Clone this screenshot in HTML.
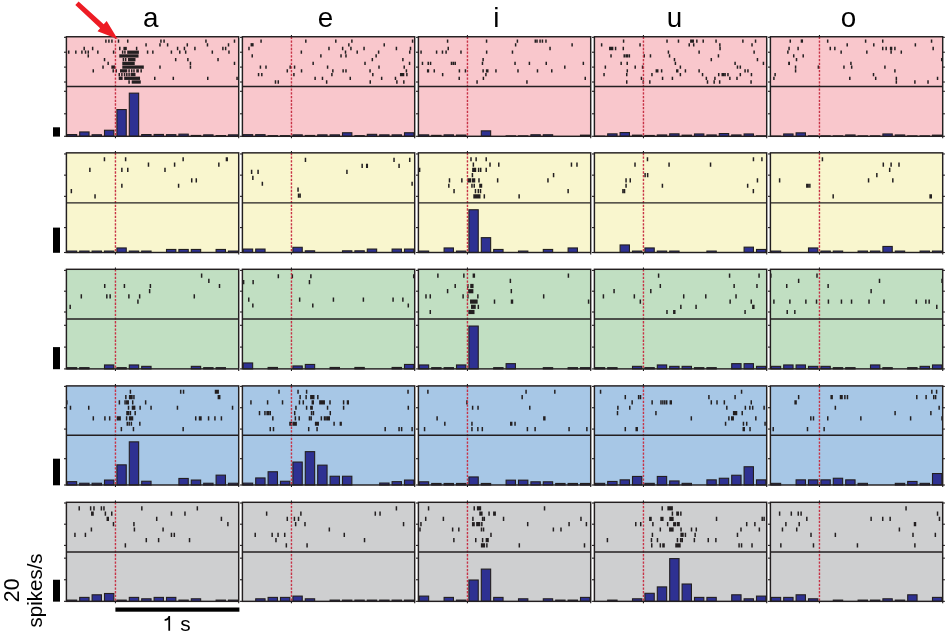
<!DOCTYPE html>
<html><head><meta charset="utf-8"><title>Raster</title>
<style>html,body{margin:0;padding:0;background:#fff;}svg{display:block;will-change:transform;}</style></head>
<body><svg width="946" height="636" viewBox="0 0 946 636">
<rect x="66.4" y="36.75" width="172.3" height="99.55" fill="#f9c7cc"/>
<rect x="242.4" y="36.75" width="172.3" height="99.55" fill="#f9c7cc"/>
<rect x="418.4" y="36.75" width="172.3" height="99.55" fill="#f9c7cc"/>
<rect x="594.4" y="36.75" width="172.3" height="99.55" fill="#f9c7cc"/>
<rect x="770.4" y="36.75" width="172.3" height="99.55" fill="#f9c7cc"/>
<rect x="66.4" y="152.85" width="172.3" height="99.65" fill="#f9f6ce"/>
<rect x="242.4" y="152.85" width="172.3" height="99.65" fill="#f9f6ce"/>
<rect x="418.4" y="152.85" width="172.3" height="99.65" fill="#f9f6ce"/>
<rect x="594.4" y="152.85" width="172.3" height="99.65" fill="#f9f6ce"/>
<rect x="770.4" y="152.85" width="172.3" height="99.65" fill="#f9f6ce"/>
<rect x="66.4" y="269.3" width="172.3" height="99.6" fill="#c1dfc2"/>
<rect x="242.4" y="269.3" width="172.3" height="99.6" fill="#c1dfc2"/>
<rect x="418.4" y="269.3" width="172.3" height="99.6" fill="#c1dfc2"/>
<rect x="594.4" y="269.3" width="172.3" height="99.6" fill="#c1dfc2"/>
<rect x="770.4" y="269.3" width="172.3" height="99.6" fill="#c1dfc2"/>
<rect x="66.4" y="385.9" width="172.3" height="99.1" fill="#a7c7e6"/>
<rect x="242.4" y="385.9" width="172.3" height="99.1" fill="#a7c7e6"/>
<rect x="418.4" y="385.9" width="172.3" height="99.1" fill="#a7c7e6"/>
<rect x="594.4" y="385.9" width="172.3" height="99.1" fill="#a7c7e6"/>
<rect x="770.4" y="385.9" width="172.3" height="99.1" fill="#a7c7e6"/>
<rect x="66.4" y="502.3" width="172.3" height="99.05" fill="#cecfd0"/>
<rect x="242.4" y="502.3" width="172.3" height="99.05" fill="#cecfd0"/>
<rect x="418.4" y="502.3" width="172.3" height="99.05" fill="#cecfd0"/>
<rect x="594.4" y="502.3" width="172.3" height="99.05" fill="#cecfd0"/>
<rect x="770.4" y="502.3" width="172.3" height="99.05" fill="#cecfd0"/>
<rect x="67.3" y="134.55" width="9.35" height="1.75" fill="#2e3192" stroke="#231f20" stroke-width="1.1"/>
<rect x="79.7" y="131.95" width="9.35" height="4.35" fill="#2e3192" stroke="#231f20" stroke-width="1.1"/>
<rect x="92.1" y="134.75" width="9.35" height="1.55" fill="#2e3192" stroke="#231f20" stroke-width="1.1"/>
<rect x="104.5" y="130.25" width="9.35" height="6.05" fill="#2e3192" stroke="#231f20" stroke-width="1.1"/>
<rect x="116.9" y="109.55" width="9.35" height="26.75" fill="#2e3192" stroke="#231f20" stroke-width="1.1"/>
<rect x="129.3" y="93.15" width="9.35" height="43.15" fill="#2e3192" stroke="#231f20" stroke-width="1.1"/>
<rect x="141.7" y="134.55" width="9.35" height="1.75" fill="#2e3192" stroke="#231f20" stroke-width="1.1"/>
<rect x="154.1" y="134.45" width="9.35" height="1.85" fill="#2e3192" stroke="#231f20" stroke-width="1.1"/>
<rect x="166.5" y="134.65" width="9.35" height="1.65" fill="#2e3192" stroke="#231f20" stroke-width="1.1"/>
<rect x="178.9" y="134.15" width="9.35" height="2.15" fill="#2e3192" stroke="#231f20" stroke-width="1.1"/>
<rect x="191.3" y="135.45" width="9.35" height="0.85" fill="#2e3192" stroke="#231f20" stroke-width="1.1"/>
<rect x="203.7" y="134.85" width="9.35" height="1.45" fill="#2e3192" stroke="#231f20" stroke-width="1.1"/>
<rect x="216.1" y="135.55" width="9.35" height="0.75" fill="#2e3192" stroke="#231f20" stroke-width="1.1"/>
<rect x="228.5" y="134.85" width="9.35" height="1.45" fill="#2e3192" stroke="#231f20" stroke-width="1.1"/>
<rect x="243.3" y="134.65" width="9.35" height="1.65" fill="#2e3192" stroke="#231f20" stroke-width="1.1"/>
<rect x="255.7" y="134.65" width="9.35" height="1.65" fill="#2e3192" stroke="#231f20" stroke-width="1.1"/>
<rect x="268.1" y="135.65" width="9.35" height="0.65" fill="#2e3192" stroke="#231f20" stroke-width="1.1"/>
<rect x="280.5" y="135.65" width="9.35" height="0.65" fill="#2e3192" stroke="#231f20" stroke-width="1.1"/>
<rect x="292.9" y="134.85" width="9.35" height="1.45" fill="#2e3192" stroke="#231f20" stroke-width="1.1"/>
<rect x="305.3" y="135.45" width="9.35" height="0.85" fill="#2e3192" stroke="#231f20" stroke-width="1.1"/>
<rect x="317.7" y="134.85" width="9.35" height="1.45" fill="#2e3192" stroke="#231f20" stroke-width="1.1"/>
<rect x="330.1" y="134.85" width="9.35" height="1.45" fill="#2e3192" stroke="#231f20" stroke-width="1.1"/>
<rect x="342.5" y="132.75" width="9.35" height="3.55" fill="#2e3192" stroke="#231f20" stroke-width="1.1"/>
<rect x="354.9" y="135.65" width="9.35" height="0.65" fill="#2e3192" stroke="#231f20" stroke-width="1.1"/>
<rect x="367.3" y="134.35" width="9.35" height="1.95" fill="#2e3192" stroke="#231f20" stroke-width="1.1"/>
<rect x="379.7" y="134.85" width="9.35" height="1.45" fill="#2e3192" stroke="#231f20" stroke-width="1.1"/>
<rect x="392.1" y="134.85" width="9.35" height="1.45" fill="#2e3192" stroke="#231f20" stroke-width="1.1"/>
<rect x="404.5" y="132.75" width="9.35" height="3.55" fill="#2e3192" stroke="#231f20" stroke-width="1.1"/>
<rect x="419.3" y="134.85" width="9.35" height="1.45" fill="#2e3192" stroke="#231f20" stroke-width="1.1"/>
<rect x="431.7" y="135.35" width="9.35" height="0.95" fill="#2e3192" stroke="#231f20" stroke-width="1.1"/>
<rect x="444.1" y="134.85" width="9.35" height="1.45" fill="#2e3192" stroke="#231f20" stroke-width="1.1"/>
<rect x="456.5" y="135.05" width="9.35" height="1.25" fill="#2e3192" stroke="#231f20" stroke-width="1.1"/>
<rect x="481.3" y="130.85" width="9.35" height="5.45" fill="#2e3192" stroke="#231f20" stroke-width="1.1"/>
<rect x="506.1" y="135.85" width="9.35" height="0.45" fill="#2e3192" stroke="#231f20" stroke-width="1.1"/>
<rect x="518.5" y="135.85" width="9.35" height="0.45" fill="#2e3192" stroke="#231f20" stroke-width="1.1"/>
<rect x="530.9" y="134.75" width="9.35" height="1.55" fill="#2e3192" stroke="#231f20" stroke-width="1.1"/>
<rect x="543.3" y="134.75" width="9.35" height="1.55" fill="#2e3192" stroke="#231f20" stroke-width="1.1"/>
<rect x="580.5" y="135.15" width="9.35" height="1.15" fill="#2e3192" stroke="#231f20" stroke-width="1.1"/>
<rect x="595.3" y="136.15" width="9.35" height="0.15" fill="#2e3192" stroke="#231f20" stroke-width="1.1"/>
<rect x="607.7" y="133.85" width="9.35" height="2.45" fill="#2e3192" stroke="#231f20" stroke-width="1.1"/>
<rect x="620.1" y="132.55" width="9.35" height="3.75" fill="#2e3192" stroke="#231f20" stroke-width="1.1"/>
<rect x="632.5" y="135.15" width="9.35" height="1.15" fill="#2e3192" stroke="#231f20" stroke-width="1.1"/>
<rect x="644.9" y="135.45" width="9.35" height="0.85" fill="#2e3192" stroke="#231f20" stroke-width="1.1"/>
<rect x="657.3" y="134.95" width="9.35" height="1.35" fill="#2e3192" stroke="#231f20" stroke-width="1.1"/>
<rect x="669.7" y="133.85" width="9.35" height="2.45" fill="#2e3192" stroke="#231f20" stroke-width="1.1"/>
<rect x="682.1" y="135.15" width="9.35" height="1.15" fill="#2e3192" stroke="#231f20" stroke-width="1.1"/>
<rect x="694.5" y="133.95" width="9.35" height="2.35" fill="#2e3192" stroke="#231f20" stroke-width="1.1"/>
<rect x="706.9" y="134.95" width="9.35" height="1.35" fill="#2e3192" stroke="#231f20" stroke-width="1.1"/>
<rect x="719.3" y="133.55" width="9.35" height="2.75" fill="#2e3192" stroke="#231f20" stroke-width="1.1"/>
<rect x="731.7" y="134.95" width="9.35" height="1.35" fill="#2e3192" stroke="#231f20" stroke-width="1.1"/>
<rect x="744.1" y="133.95" width="9.35" height="2.35" fill="#2e3192" stroke="#231f20" stroke-width="1.1"/>
<rect x="756.5" y="135.85" width="9.35" height="0.45" fill="#2e3192" stroke="#231f20" stroke-width="1.1"/>
<rect x="771.3" y="136.15" width="9.35" height="0.15" fill="#2e3192" stroke="#231f20" stroke-width="1.1"/>
<rect x="783.7" y="133.95" width="9.35" height="2.35" fill="#2e3192" stroke="#231f20" stroke-width="1.1"/>
<rect x="796.1" y="132.85" width="9.35" height="3.45" fill="#2e3192" stroke="#231f20" stroke-width="1.1"/>
<rect x="808.5" y="135.85" width="9.35" height="0.45" fill="#2e3192" stroke="#231f20" stroke-width="1.1"/>
<rect x="820.9" y="135.85" width="9.35" height="0.45" fill="#2e3192" stroke="#231f20" stroke-width="1.1"/>
<rect x="833.3" y="135.85" width="9.35" height="0.45" fill="#2e3192" stroke="#231f20" stroke-width="1.1"/>
<rect x="845.7" y="134.95" width="9.35" height="1.35" fill="#2e3192" stroke="#231f20" stroke-width="1.1"/>
<rect x="858.1" y="135.85" width="9.35" height="0.45" fill="#2e3192" stroke="#231f20" stroke-width="1.1"/>
<rect x="870.5" y="135.85" width="9.35" height="0.45" fill="#2e3192" stroke="#231f20" stroke-width="1.1"/>
<rect x="882.9" y="133.95" width="9.35" height="2.35" fill="#2e3192" stroke="#231f20" stroke-width="1.1"/>
<rect x="895.3" y="134.95" width="9.35" height="1.35" fill="#2e3192" stroke="#231f20" stroke-width="1.1"/>
<rect x="907.7" y="135.85" width="9.35" height="0.45" fill="#2e3192" stroke="#231f20" stroke-width="1.1"/>
<rect x="920.1" y="135.85" width="9.35" height="0.45" fill="#2e3192" stroke="#231f20" stroke-width="1.1"/>
<rect x="932.5" y="135.15" width="9.35" height="1.15" fill="#2e3192" stroke="#231f20" stroke-width="1.1"/>
<rect x="67.3" y="251.05" width="9.35" height="1.45" fill="#2e3192" stroke="#231f20" stroke-width="1.1"/>
<rect x="79.7" y="251.05" width="9.35" height="1.45" fill="#2e3192" stroke="#231f20" stroke-width="1.1"/>
<rect x="92.1" y="251.05" width="9.35" height="1.45" fill="#2e3192" stroke="#231f20" stroke-width="1.1"/>
<rect x="104.5" y="251.05" width="9.35" height="1.45" fill="#2e3192" stroke="#231f20" stroke-width="1.1"/>
<rect x="116.9" y="247.95" width="9.35" height="4.55" fill="#2e3192" stroke="#231f20" stroke-width="1.1"/>
<rect x="129.3" y="251.05" width="9.35" height="1.45" fill="#2e3192" stroke="#231f20" stroke-width="1.1"/>
<rect x="141.7" y="251.05" width="9.35" height="1.45" fill="#2e3192" stroke="#231f20" stroke-width="1.1"/>
<rect x="166.5" y="249.45" width="9.35" height="3.05" fill="#2e3192" stroke="#231f20" stroke-width="1.1"/>
<rect x="178.9" y="249.45" width="9.35" height="3.05" fill="#2e3192" stroke="#231f20" stroke-width="1.1"/>
<rect x="191.3" y="249.45" width="9.35" height="3.05" fill="#2e3192" stroke="#231f20" stroke-width="1.1"/>
<rect x="216.1" y="249.45" width="9.35" height="3.05" fill="#2e3192" stroke="#231f20" stroke-width="1.1"/>
<rect x="228.5" y="251.05" width="9.35" height="1.45" fill="#2e3192" stroke="#231f20" stroke-width="1.1"/>
<rect x="243.3" y="249.05" width="9.35" height="3.45" fill="#2e3192" stroke="#231f20" stroke-width="1.1"/>
<rect x="255.7" y="249.05" width="9.35" height="3.45" fill="#2e3192" stroke="#231f20" stroke-width="1.1"/>
<rect x="292.9" y="247.3" width="9.35" height="5.2" fill="#2e3192" stroke="#231f20" stroke-width="1.1"/>
<rect x="305.3" y="250.8" width="9.35" height="1.7" fill="#2e3192" stroke="#231f20" stroke-width="1.1"/>
<rect x="342.5" y="250.8" width="9.35" height="1.7" fill="#2e3192" stroke="#231f20" stroke-width="1.1"/>
<rect x="354.9" y="250.8" width="9.35" height="1.7" fill="#2e3192" stroke="#231f20" stroke-width="1.1"/>
<rect x="367.3" y="249.05" width="9.35" height="3.45" fill="#2e3192" stroke="#231f20" stroke-width="1.1"/>
<rect x="392.1" y="249.05" width="9.35" height="3.45" fill="#2e3192" stroke="#231f20" stroke-width="1.1"/>
<rect x="404.5" y="249.05" width="9.35" height="3.45" fill="#2e3192" stroke="#231f20" stroke-width="1.1"/>
<rect x="419.3" y="251.05" width="9.35" height="1.45" fill="#2e3192" stroke="#231f20" stroke-width="1.1"/>
<rect x="444.1" y="247.95" width="9.35" height="4.55" fill="#2e3192" stroke="#231f20" stroke-width="1.1"/>
<rect x="456.5" y="251.05" width="9.35" height="1.45" fill="#2e3192" stroke="#231f20" stroke-width="1.1"/>
<rect x="468.9" y="209.75" width="9.35" height="42.75" fill="#2e3192" stroke="#231f20" stroke-width="1.1"/>
<rect x="481.3" y="237.65" width="9.35" height="14.85" fill="#2e3192" stroke="#231f20" stroke-width="1.1"/>
<rect x="493.7" y="249.45" width="9.35" height="3.05" fill="#2e3192" stroke="#231f20" stroke-width="1.1"/>
<rect x="518.5" y="251.05" width="9.35" height="1.45" fill="#2e3192" stroke="#231f20" stroke-width="1.1"/>
<rect x="543.3" y="249.45" width="9.35" height="3.05" fill="#2e3192" stroke="#231f20" stroke-width="1.1"/>
<rect x="568.1" y="247.95" width="9.35" height="4.55" fill="#2e3192" stroke="#231f20" stroke-width="1.1"/>
<rect x="620.1" y="244.95" width="9.35" height="7.55" fill="#2e3192" stroke="#231f20" stroke-width="1.1"/>
<rect x="632.5" y="251.05" width="9.35" height="1.45" fill="#2e3192" stroke="#231f20" stroke-width="1.1"/>
<rect x="644.9" y="247.95" width="9.35" height="4.55" fill="#2e3192" stroke="#231f20" stroke-width="1.1"/>
<rect x="657.3" y="251.05" width="9.35" height="1.45" fill="#2e3192" stroke="#231f20" stroke-width="1.1"/>
<rect x="669.7" y="251.05" width="9.35" height="1.45" fill="#2e3192" stroke="#231f20" stroke-width="1.1"/>
<rect x="706.9" y="251.05" width="9.35" height="1.45" fill="#2e3192" stroke="#231f20" stroke-width="1.1"/>
<rect x="744.1" y="247.15" width="9.35" height="5.35" fill="#2e3192" stroke="#231f20" stroke-width="1.1"/>
<rect x="756.5" y="249.45" width="9.35" height="3.05" fill="#2e3192" stroke="#231f20" stroke-width="1.1"/>
<rect x="771.3" y="251.05" width="9.35" height="1.45" fill="#2e3192" stroke="#231f20" stroke-width="1.1"/>
<rect x="808.5" y="247.95" width="9.35" height="4.55" fill="#2e3192" stroke="#231f20" stroke-width="1.1"/>
<rect x="820.9" y="251.05" width="9.35" height="1.45" fill="#2e3192" stroke="#231f20" stroke-width="1.1"/>
<rect x="833.3" y="251.05" width="9.35" height="1.45" fill="#2e3192" stroke="#231f20" stroke-width="1.1"/>
<rect x="858.1" y="251.05" width="9.35" height="1.45" fill="#2e3192" stroke="#231f20" stroke-width="1.1"/>
<rect x="870.5" y="251.05" width="9.35" height="1.45" fill="#2e3192" stroke="#231f20" stroke-width="1.1"/>
<rect x="882.9" y="246.45" width="9.35" height="6.05" fill="#2e3192" stroke="#231f20" stroke-width="1.1"/>
<rect x="895.3" y="251.05" width="9.35" height="1.45" fill="#2e3192" stroke="#231f20" stroke-width="1.1"/>
<rect x="920.1" y="251.05" width="9.35" height="1.45" fill="#2e3192" stroke="#231f20" stroke-width="1.1"/>
<rect x="932.5" y="251.05" width="9.35" height="1.45" fill="#2e3192" stroke="#231f20" stroke-width="1.1"/>
<rect x="67.3" y="367.65" width="9.35" height="1.25" fill="#2e3192" stroke="#231f20" stroke-width="1.1"/>
<rect x="79.7" y="367.65" width="9.35" height="1.25" fill="#2e3192" stroke="#231f20" stroke-width="1.1"/>
<rect x="104.5" y="364.95" width="9.35" height="3.95" fill="#2e3192" stroke="#231f20" stroke-width="1.1"/>
<rect x="116.9" y="367.65" width="9.35" height="1.25" fill="#2e3192" stroke="#231f20" stroke-width="1.1"/>
<rect x="129.3" y="364.95" width="9.35" height="3.95" fill="#2e3192" stroke="#231f20" stroke-width="1.1"/>
<rect x="141.7" y="366.35" width="9.35" height="2.55" fill="#2e3192" stroke="#231f20" stroke-width="1.1"/>
<rect x="191.3" y="366.35" width="9.35" height="2.55" fill="#2e3192" stroke="#231f20" stroke-width="1.1"/>
<rect x="203.7" y="367.65" width="9.35" height="1.25" fill="#2e3192" stroke="#231f20" stroke-width="1.1"/>
<rect x="216.1" y="367.65" width="9.35" height="1.25" fill="#2e3192" stroke="#231f20" stroke-width="1.1"/>
<rect x="243.3" y="362.95" width="9.35" height="5.95" fill="#2e3192" stroke="#231f20" stroke-width="1.1"/>
<rect x="268.1" y="367.45" width="9.35" height="1.45" fill="#2e3192" stroke="#231f20" stroke-width="1.1"/>
<rect x="292.9" y="365.95" width="9.35" height="2.95" fill="#2e3192" stroke="#231f20" stroke-width="1.1"/>
<rect x="305.3" y="364.45" width="9.35" height="4.45" fill="#2e3192" stroke="#231f20" stroke-width="1.1"/>
<rect x="330.1" y="367.45" width="9.35" height="1.45" fill="#2e3192" stroke="#231f20" stroke-width="1.1"/>
<rect x="354.9" y="367.45" width="9.35" height="1.45" fill="#2e3192" stroke="#231f20" stroke-width="1.1"/>
<rect x="392.1" y="367.45" width="9.35" height="1.45" fill="#2e3192" stroke="#231f20" stroke-width="1.1"/>
<rect x="404.5" y="364.45" width="9.35" height="4.45" fill="#2e3192" stroke="#231f20" stroke-width="1.1"/>
<rect x="419.3" y="364.95" width="9.35" height="3.95" fill="#2e3192" stroke="#231f20" stroke-width="1.1"/>
<rect x="431.7" y="367.65" width="9.35" height="1.25" fill="#2e3192" stroke="#231f20" stroke-width="1.1"/>
<rect x="444.1" y="367.65" width="9.35" height="1.25" fill="#2e3192" stroke="#231f20" stroke-width="1.1"/>
<rect x="456.5" y="364.95" width="9.35" height="3.95" fill="#2e3192" stroke="#231f20" stroke-width="1.1"/>
<rect x="468.9" y="326.05" width="9.35" height="42.85" fill="#2e3192" stroke="#231f20" stroke-width="1.1"/>
<rect x="493.7" y="367.65" width="9.35" height="1.25" fill="#2e3192" stroke="#231f20" stroke-width="1.1"/>
<rect x="506.1" y="363.65" width="9.35" height="5.25" fill="#2e3192" stroke="#231f20" stroke-width="1.1"/>
<rect x="543.3" y="367.65" width="9.35" height="1.25" fill="#2e3192" stroke="#231f20" stroke-width="1.1"/>
<rect x="568.1" y="367.65" width="9.35" height="1.25" fill="#2e3192" stroke="#231f20" stroke-width="1.1"/>
<rect x="580.5" y="367.65" width="9.35" height="1.25" fill="#2e3192" stroke="#231f20" stroke-width="1.1"/>
<rect x="595.3" y="367.65" width="9.35" height="1.25" fill="#2e3192" stroke="#231f20" stroke-width="1.1"/>
<rect x="607.7" y="367.65" width="9.35" height="1.25" fill="#2e3192" stroke="#231f20" stroke-width="1.1"/>
<rect x="632.5" y="366.35" width="9.35" height="2.55" fill="#2e3192" stroke="#231f20" stroke-width="1.1"/>
<rect x="644.9" y="367.65" width="9.35" height="1.25" fill="#2e3192" stroke="#231f20" stroke-width="1.1"/>
<rect x="657.3" y="364.95" width="9.35" height="3.95" fill="#2e3192" stroke="#231f20" stroke-width="1.1"/>
<rect x="669.7" y="366.35" width="9.35" height="2.55" fill="#2e3192" stroke="#231f20" stroke-width="1.1"/>
<rect x="682.1" y="366.35" width="9.35" height="2.55" fill="#2e3192" stroke="#231f20" stroke-width="1.1"/>
<rect x="694.5" y="367.65" width="9.35" height="1.25" fill="#2e3192" stroke="#231f20" stroke-width="1.1"/>
<rect x="706.9" y="367.65" width="9.35" height="1.25" fill="#2e3192" stroke="#231f20" stroke-width="1.1"/>
<rect x="731.7" y="363.65" width="9.35" height="5.25" fill="#2e3192" stroke="#231f20" stroke-width="1.1"/>
<rect x="744.1" y="363.65" width="9.35" height="5.25" fill="#2e3192" stroke="#231f20" stroke-width="1.1"/>
<rect x="756.5" y="366.35" width="9.35" height="2.55" fill="#2e3192" stroke="#231f20" stroke-width="1.1"/>
<rect x="771.3" y="366.35" width="9.35" height="2.55" fill="#2e3192" stroke="#231f20" stroke-width="1.1"/>
<rect x="783.7" y="364.95" width="9.35" height="3.95" fill="#2e3192" stroke="#231f20" stroke-width="1.1"/>
<rect x="796.1" y="364.95" width="9.35" height="3.95" fill="#2e3192" stroke="#231f20" stroke-width="1.1"/>
<rect x="808.5" y="366.35" width="9.35" height="2.55" fill="#2e3192" stroke="#231f20" stroke-width="1.1"/>
<rect x="820.9" y="366.35" width="9.35" height="2.55" fill="#2e3192" stroke="#231f20" stroke-width="1.1"/>
<rect x="833.3" y="367.65" width="9.35" height="1.25" fill="#2e3192" stroke="#231f20" stroke-width="1.1"/>
<rect x="845.7" y="367.65" width="9.35" height="1.25" fill="#2e3192" stroke="#231f20" stroke-width="1.1"/>
<rect x="870.5" y="364.95" width="9.35" height="3.95" fill="#2e3192" stroke="#231f20" stroke-width="1.1"/>
<rect x="882.9" y="367.65" width="9.35" height="1.25" fill="#2e3192" stroke="#231f20" stroke-width="1.1"/>
<rect x="907.7" y="367.65" width="9.35" height="1.25" fill="#2e3192" stroke="#231f20" stroke-width="1.1"/>
<rect x="920.1" y="366.35" width="9.35" height="2.55" fill="#2e3192" stroke="#231f20" stroke-width="1.1"/>
<rect x="932.5" y="364.95" width="9.35" height="3.95" fill="#2e3192" stroke="#231f20" stroke-width="1.1"/>
<rect x="67.3" y="481.65" width="9.35" height="3.35" fill="#2e3192" stroke="#231f20" stroke-width="1.1"/>
<rect x="79.7" y="483.25" width="9.35" height="1.75" fill="#2e3192" stroke="#231f20" stroke-width="1.1"/>
<rect x="92.1" y="483.25" width="9.35" height="1.75" fill="#2e3192" stroke="#231f20" stroke-width="1.1"/>
<rect x="104.5" y="480.05" width="9.35" height="4.95" fill="#2e3192" stroke="#231f20" stroke-width="1.1"/>
<rect x="116.9" y="464.85" width="9.35" height="20.15" fill="#2e3192" stroke="#231f20" stroke-width="1.1"/>
<rect x="129.3" y="441.85" width="9.35" height="43.15" fill="#2e3192" stroke="#231f20" stroke-width="1.1"/>
<rect x="141.7" y="481.25" width="9.35" height="3.75" fill="#2e3192" stroke="#231f20" stroke-width="1.1"/>
<rect x="178.9" y="478.45" width="9.35" height="6.55" fill="#2e3192" stroke="#231f20" stroke-width="1.1"/>
<rect x="191.3" y="480.05" width="9.35" height="4.95" fill="#2e3192" stroke="#231f20" stroke-width="1.1"/>
<rect x="203.7" y="483.25" width="9.35" height="1.75" fill="#2e3192" stroke="#231f20" stroke-width="1.1"/>
<rect x="216.1" y="475.15" width="9.35" height="9.85" fill="#2e3192" stroke="#231f20" stroke-width="1.1"/>
<rect x="228.5" y="483.25" width="9.35" height="1.75" fill="#2e3192" stroke="#231f20" stroke-width="1.1"/>
<rect x="243.3" y="483.15" width="9.35" height="1.85" fill="#2e3192" stroke="#231f20" stroke-width="1.1"/>
<rect x="255.7" y="477.95" width="9.35" height="7.05" fill="#2e3192" stroke="#231f20" stroke-width="1.1"/>
<rect x="268.1" y="471.75" width="9.35" height="13.25" fill="#2e3192" stroke="#231f20" stroke-width="1.1"/>
<rect x="280.5" y="481.25" width="9.35" height="3.75" fill="#2e3192" stroke="#231f20" stroke-width="1.1"/>
<rect x="292.9" y="462.05" width="9.35" height="22.95" fill="#2e3192" stroke="#231f20" stroke-width="1.1"/>
<rect x="305.3" y="451.65" width="9.35" height="33.35" fill="#2e3192" stroke="#231f20" stroke-width="1.1"/>
<rect x="317.7" y="465.15" width="9.35" height="19.85" fill="#2e3192" stroke="#231f20" stroke-width="1.1"/>
<rect x="330.1" y="476.25" width="9.35" height="8.75" fill="#2e3192" stroke="#231f20" stroke-width="1.1"/>
<rect x="342.5" y="476.25" width="9.35" height="8.75" fill="#2e3192" stroke="#231f20" stroke-width="1.1"/>
<rect x="379.7" y="483.05" width="9.35" height="1.95" fill="#2e3192" stroke="#231f20" stroke-width="1.1"/>
<rect x="392.1" y="481.65" width="9.35" height="3.35" fill="#2e3192" stroke="#231f20" stroke-width="1.1"/>
<rect x="404.5" y="480.05" width="9.35" height="4.95" fill="#2e3192" stroke="#231f20" stroke-width="1.1"/>
<rect x="419.3" y="481.8" width="9.35" height="3.2" fill="#2e3192" stroke="#231f20" stroke-width="1.1"/>
<rect x="431.7" y="483.45" width="9.35" height="1.55" fill="#2e3192" stroke="#231f20" stroke-width="1.1"/>
<rect x="444.1" y="483.45" width="9.35" height="1.55" fill="#2e3192" stroke="#231f20" stroke-width="1.1"/>
<rect x="456.5" y="483.45" width="9.35" height="1.55" fill="#2e3192" stroke="#231f20" stroke-width="1.1"/>
<rect x="468.9" y="476.95" width="9.35" height="8.05" fill="#2e3192" stroke="#231f20" stroke-width="1.1"/>
<rect x="481.3" y="483.45" width="9.35" height="1.55" fill="#2e3192" stroke="#231f20" stroke-width="1.1"/>
<rect x="506.1" y="480.15" width="9.35" height="4.85" fill="#2e3192" stroke="#231f20" stroke-width="1.1"/>
<rect x="518.5" y="480.15" width="9.35" height="4.85" fill="#2e3192" stroke="#231f20" stroke-width="1.1"/>
<rect x="530.9" y="481.8" width="9.35" height="3.2" fill="#2e3192" stroke="#231f20" stroke-width="1.1"/>
<rect x="543.3" y="481.8" width="9.35" height="3.2" fill="#2e3192" stroke="#231f20" stroke-width="1.1"/>
<rect x="555.7" y="483.45" width="9.35" height="1.55" fill="#2e3192" stroke="#231f20" stroke-width="1.1"/>
<rect x="568.1" y="483.45" width="9.35" height="1.55" fill="#2e3192" stroke="#231f20" stroke-width="1.1"/>
<rect x="580.5" y="483.45" width="9.35" height="1.55" fill="#2e3192" stroke="#231f20" stroke-width="1.1"/>
<rect x="595.3" y="483.35" width="9.35" height="1.65" fill="#2e3192" stroke="#231f20" stroke-width="1.1"/>
<rect x="607.7" y="481.45" width="9.35" height="3.55" fill="#2e3192" stroke="#231f20" stroke-width="1.1"/>
<rect x="620.1" y="479.85" width="9.35" height="5.15" fill="#2e3192" stroke="#231f20" stroke-width="1.1"/>
<rect x="632.5" y="476.45" width="9.35" height="8.55" fill="#2e3192" stroke="#231f20" stroke-width="1.1"/>
<rect x="644.9" y="483.35" width="9.35" height="1.65" fill="#2e3192" stroke="#231f20" stroke-width="1.1"/>
<rect x="657.3" y="476.45" width="9.35" height="8.55" fill="#2e3192" stroke="#231f20" stroke-width="1.1"/>
<rect x="669.7" y="480.95" width="9.35" height="4.05" fill="#2e3192" stroke="#231f20" stroke-width="1.1"/>
<rect x="682.1" y="483.35" width="9.35" height="1.65" fill="#2e3192" stroke="#231f20" stroke-width="1.1"/>
<rect x="706.9" y="479.85" width="9.35" height="5.15" fill="#2e3192" stroke="#231f20" stroke-width="1.1"/>
<rect x="719.3" y="478.25" width="9.35" height="6.75" fill="#2e3192" stroke="#231f20" stroke-width="1.1"/>
<rect x="731.7" y="475.25" width="9.35" height="9.75" fill="#2e3192" stroke="#231f20" stroke-width="1.1"/>
<rect x="744.1" y="466.75" width="9.35" height="18.25" fill="#2e3192" stroke="#231f20" stroke-width="1.1"/>
<rect x="756.5" y="479.85" width="9.35" height="5.15" fill="#2e3192" stroke="#231f20" stroke-width="1.1"/>
<rect x="771.3" y="483.35" width="9.35" height="1.65" fill="#2e3192" stroke="#231f20" stroke-width="1.1"/>
<rect x="796.1" y="479.85" width="9.35" height="5.15" fill="#2e3192" stroke="#231f20" stroke-width="1.1"/>
<rect x="808.5" y="479.85" width="9.35" height="5.15" fill="#2e3192" stroke="#231f20" stroke-width="1.1"/>
<rect x="820.9" y="479.85" width="9.35" height="5.15" fill="#2e3192" stroke="#231f20" stroke-width="1.1"/>
<rect x="833.3" y="478.25" width="9.35" height="6.75" fill="#2e3192" stroke="#231f20" stroke-width="1.1"/>
<rect x="845.7" y="479.85" width="9.35" height="5.15" fill="#2e3192" stroke="#231f20" stroke-width="1.1"/>
<rect x="858.1" y="483.35" width="9.35" height="1.65" fill="#2e3192" stroke="#231f20" stroke-width="1.1"/>
<rect x="895.3" y="483.35" width="9.35" height="1.65" fill="#2e3192" stroke="#231f20" stroke-width="1.1"/>
<rect x="907.7" y="481.45" width="9.35" height="3.55" fill="#2e3192" stroke="#231f20" stroke-width="1.1"/>
<rect x="920.1" y="483.35" width="9.35" height="1.65" fill="#2e3192" stroke="#231f20" stroke-width="1.1"/>
<rect x="932.5" y="473.55" width="9.35" height="11.45" fill="#2e3192" stroke="#231f20" stroke-width="1.1"/>
<rect x="67.3" y="600.1" width="9.35" height="1.25" fill="#2e3192" stroke="#231f20" stroke-width="1.1"/>
<rect x="79.7" y="597.4" width="9.35" height="3.95" fill="#2e3192" stroke="#231f20" stroke-width="1.1"/>
<rect x="92.1" y="594.8" width="9.35" height="6.55" fill="#2e3192" stroke="#231f20" stroke-width="1.1"/>
<rect x="104.5" y="593.5" width="9.35" height="7.85" fill="#2e3192" stroke="#231f20" stroke-width="1.1"/>
<rect x="116.9" y="600.1" width="9.35" height="1.25" fill="#2e3192" stroke="#231f20" stroke-width="1.1"/>
<rect x="129.3" y="597.4" width="9.35" height="3.95" fill="#2e3192" stroke="#231f20" stroke-width="1.1"/>
<rect x="141.7" y="598.8" width="9.35" height="2.55" fill="#2e3192" stroke="#231f20" stroke-width="1.1"/>
<rect x="154.1" y="597.4" width="9.35" height="3.95" fill="#2e3192" stroke="#231f20" stroke-width="1.1"/>
<rect x="166.5" y="597.4" width="9.35" height="3.95" fill="#2e3192" stroke="#231f20" stroke-width="1.1"/>
<rect x="178.9" y="600.1" width="9.35" height="1.25" fill="#2e3192" stroke="#231f20" stroke-width="1.1"/>
<rect x="191.3" y="598.8" width="9.35" height="2.55" fill="#2e3192" stroke="#231f20" stroke-width="1.1"/>
<rect x="216.1" y="600.1" width="9.35" height="1.25" fill="#2e3192" stroke="#231f20" stroke-width="1.1"/>
<rect x="228.5" y="600.1" width="9.35" height="1.25" fill="#2e3192" stroke="#231f20" stroke-width="1.1"/>
<rect x="255.7" y="598.8" width="9.35" height="2.55" fill="#2e3192" stroke="#231f20" stroke-width="1.1"/>
<rect x="268.1" y="597.4" width="9.35" height="3.95" fill="#2e3192" stroke="#231f20" stroke-width="1.1"/>
<rect x="280.5" y="597.4" width="9.35" height="3.95" fill="#2e3192" stroke="#231f20" stroke-width="1.1"/>
<rect x="292.9" y="596.1" width="9.35" height="5.25" fill="#2e3192" stroke="#231f20" stroke-width="1.1"/>
<rect x="305.3" y="598.8" width="9.35" height="2.55" fill="#2e3192" stroke="#231f20" stroke-width="1.1"/>
<rect x="330.1" y="600.1" width="9.35" height="1.25" fill="#2e3192" stroke="#231f20" stroke-width="1.1"/>
<rect x="342.5" y="600.1" width="9.35" height="1.25" fill="#2e3192" stroke="#231f20" stroke-width="1.1"/>
<rect x="354.9" y="600.1" width="9.35" height="1.25" fill="#2e3192" stroke="#231f20" stroke-width="1.1"/>
<rect x="367.3" y="600.1" width="9.35" height="1.25" fill="#2e3192" stroke="#231f20" stroke-width="1.1"/>
<rect x="379.7" y="600.1" width="9.35" height="1.25" fill="#2e3192" stroke="#231f20" stroke-width="1.1"/>
<rect x="392.1" y="600.1" width="9.35" height="1.25" fill="#2e3192" stroke="#231f20" stroke-width="1.1"/>
<rect x="404.5" y="600.1" width="9.35" height="1.25" fill="#2e3192" stroke="#231f20" stroke-width="1.1"/>
<rect x="419.3" y="596.1" width="9.35" height="5.25" fill="#2e3192" stroke="#231f20" stroke-width="1.1"/>
<rect x="444.1" y="597.4" width="9.35" height="3.95" fill="#2e3192" stroke="#231f20" stroke-width="1.1"/>
<rect x="456.5" y="600.1" width="9.35" height="1.25" fill="#2e3192" stroke="#231f20" stroke-width="1.1"/>
<rect x="468.9" y="580" width="9.35" height="21.35" fill="#2e3192" stroke="#231f20" stroke-width="1.1"/>
<rect x="481.3" y="569.1" width="9.35" height="32.25" fill="#2e3192" stroke="#231f20" stroke-width="1.1"/>
<rect x="493.7" y="597.4" width="9.35" height="3.95" fill="#2e3192" stroke="#231f20" stroke-width="1.1"/>
<rect x="518.5" y="598.8" width="9.35" height="2.55" fill="#2e3192" stroke="#231f20" stroke-width="1.1"/>
<rect x="543.3" y="598.8" width="9.35" height="2.55" fill="#2e3192" stroke="#231f20" stroke-width="1.1"/>
<rect x="555.7" y="600.1" width="9.35" height="1.25" fill="#2e3192" stroke="#231f20" stroke-width="1.1"/>
<rect x="568.1" y="600.1" width="9.35" height="1.25" fill="#2e3192" stroke="#231f20" stroke-width="1.1"/>
<rect x="580.5" y="597.4" width="9.35" height="3.95" fill="#2e3192" stroke="#231f20" stroke-width="1.1"/>
<rect x="607.7" y="600.1" width="9.35" height="1.25" fill="#2e3192" stroke="#231f20" stroke-width="1.1"/>
<rect x="632.5" y="598.8" width="9.35" height="2.55" fill="#2e3192" stroke="#231f20" stroke-width="1.1"/>
<rect x="644.9" y="593.3" width="9.35" height="8.05" fill="#2e3192" stroke="#231f20" stroke-width="1.1"/>
<rect x="657.3" y="586.9" width="9.35" height="14.45" fill="#2e3192" stroke="#231f20" stroke-width="1.1"/>
<rect x="669.7" y="558.6" width="9.35" height="42.75" fill="#2e3192" stroke="#231f20" stroke-width="1.1"/>
<rect x="682.1" y="584" width="9.35" height="17.35" fill="#2e3192" stroke="#231f20" stroke-width="1.1"/>
<rect x="694.5" y="597.4" width="9.35" height="3.95" fill="#2e3192" stroke="#231f20" stroke-width="1.1"/>
<rect x="706.9" y="597.4" width="9.35" height="3.95" fill="#2e3192" stroke="#231f20" stroke-width="1.1"/>
<rect x="731.7" y="594.8" width="9.35" height="6.55" fill="#2e3192" stroke="#231f20" stroke-width="1.1"/>
<rect x="744.1" y="598.8" width="9.35" height="2.55" fill="#2e3192" stroke="#231f20" stroke-width="1.1"/>
<rect x="756.5" y="596.1" width="9.35" height="5.25" fill="#2e3192" stroke="#231f20" stroke-width="1.1"/>
<rect x="771.3" y="597.4" width="9.35" height="3.95" fill="#2e3192" stroke="#231f20" stroke-width="1.1"/>
<rect x="783.7" y="597.4" width="9.35" height="3.95" fill="#2e3192" stroke="#231f20" stroke-width="1.1"/>
<rect x="796.1" y="594.8" width="9.35" height="6.55" fill="#2e3192" stroke="#231f20" stroke-width="1.1"/>
<rect x="808.5" y="598.8" width="9.35" height="2.55" fill="#2e3192" stroke="#231f20" stroke-width="1.1"/>
<rect x="833.3" y="600.1" width="9.35" height="1.25" fill="#2e3192" stroke="#231f20" stroke-width="1.1"/>
<rect x="858.1" y="600.1" width="9.35" height="1.25" fill="#2e3192" stroke="#231f20" stroke-width="1.1"/>
<rect x="870.5" y="600.1" width="9.35" height="1.25" fill="#2e3192" stroke="#231f20" stroke-width="1.1"/>
<rect x="882.9" y="598.8" width="9.35" height="2.55" fill="#2e3192" stroke="#231f20" stroke-width="1.1"/>
<rect x="895.3" y="600.1" width="9.35" height="1.25" fill="#2e3192" stroke="#231f20" stroke-width="1.1"/>
<rect x="907.7" y="594.8" width="9.35" height="6.55" fill="#2e3192" stroke="#231f20" stroke-width="1.1"/>
<rect x="932.5" y="597.4" width="9.35" height="3.95" fill="#2e3192" stroke="#231f20" stroke-width="1.1"/>
<path d="M84.18 46.85v3.3M92.64 46.85v3.3M68.73 50.57v3.3M75.82 50.57v3.3M81.91 50.57v3.3M85.55 50.57v3.3M88.27 50.57v3.3M97.82 50.57v3.3M88.27 54.3v3.3M93.27 69.19v3.3M105.89 39.4v3.3M108.91 39.4v3.3M111.93 39.4v3.3M118.5 39.4v3.3M127.72 39.4v3.3M146.07 43.13v3.3M119.79 46.85v3.3M136.63 46.85v3.3M113.6 50.57v3.3M122.66 50.57v3.3M124.92 50.57v3.3M147.58 50.57v3.3M104.53 58.02v3.3M123.41 58.02v3.3M125.68 58.02v3.3M108.16 61.74v3.3M103.02 65.46v3.3M113.22 69.19v3.3M116.24 69.19v3.3M129.08 69.19v3.3M131.72 69.19v3.3M133.99 69.19v3.3M141.16 69.19v3.3M119.26 72.91v3.3M121.9 72.91v3.3M124.55 72.91v3.3M126.81 72.91v3.3M129.08 72.91v3.3M129.08 80.36v3.3M160.94 39.4v3.3M164.08 39.4v3.3M205.95 39.4v3.3M234.49 39.4v3.3M159.99 43.13v3.3M167.6 43.13v3.3M187.3 43.13v3.3M207.47 43.13v3.3M228.5 43.13v3.3M177.59 46.85v3.3M184.44 46.85v3.3M194.91 46.85v3.3M222.88 46.85v3.3M225.64 46.85v3.3M152.85 50.57v3.3M171.41 50.57v3.3M179.78 50.57v3.3M185.68 50.57v3.3M212.32 50.57v3.3M228.97 50.57v3.3M175.69 58.02v3.3M187.87 58.02v3.3M218.03 58.02v3.3M190.44 61.74v3.3M234.49 61.74v3.3M159.99 65.46v3.3M190.44 65.46v3.3M154.76 76.63v3.3M173.31 76.63v3.3M207.75 76.63v3.3M237.06 76.63v3.3" stroke="#231f20" stroke-width="1.5" fill="none"/>
<g fill="#231f20"><rect x="123.41" y="46.85" width="3.4" height="3.3"/><rect x="127.19" y="50.57" width="11.71" height="3.3"/><rect x="119.26" y="54.3" width="19.26" height="3.3"/><rect x="127.95" y="58.02" width="7.55" height="3.3"/><rect x="122.28" y="61.74" width="12.46" height="3.3"/><rect x="111.33" y="65.46" width="3.78" height="3.3"/><rect x="122.28" y="65.46" width="21.53" height="3.3"/><rect x="120.02" y="69.19" width="7.18" height="3.3"/><rect x="136.25" y="69.19" width="2.64" height="3.3"/><rect x="130.59" y="72.91" width="4.91" height="3.3"/><rect x="118.73" y="76.63" width="3.93" height="3.3"/><rect x="124.17" y="76.63" width="15.86" height="3.3"/><rect x="131.72" y="80.36" width="9.06" height="3.3"/></g>
<path d="M261.07 39.4v3.3M305.81 39.4v3.3M248.98 46.85v3.3M328.98 46.85v3.3M301.35 50.57v3.3M252.23 54.3v3.3M320.88 54.3v3.3M313.16 61.74v3.3M260.42 65.46v3.3M266 65.46v3.3M290.19 65.46v3.3M294.56 65.46v3.3M327.58 65.46v3.3M287.3 69.19v3.3M301.53 69.19v3.3M258.56 72.91v3.3M261.81 72.91v3.3M293.91 72.91v3.3M315.12 76.63v3.3M322.47 76.63v3.3M275.49 80.36v3.3M278.28 80.36v3.3M326.65 80.36v3.3M335.8 39.4v3.3M351.88 39.4v3.3M412.58 39.4v3.3M348.84 43.13v3.3M384.23 43.13v3.3M342.65 46.85v3.3M350.93 46.85v3.3M364.06 46.85v3.3M396.41 46.85v3.3M410.49 46.85v3.3M345.51 50.57v3.3M357.21 50.57v3.3M378.62 50.57v3.3M409.73 50.57v3.3M341.03 54.3v3.3M345.98 54.3v3.3M376.14 54.3v3.3M372.34 58.02v3.3M402.88 58.02v3.3M365.01 61.74v3.3M409.54 61.74v3.3M379 65.46v3.3M404.21 65.46v3.3M332.85 69.19v3.3M343.13 69.19v3.3M345.98 69.19v3.3M370.05 69.19v3.3M406.4 69.19v3.3M331.9 72.91v3.3M372.81 72.91v3.3M400.69 72.91v3.3M402.12 72.91v3.3M403.55 72.91v3.3M406.88 72.91v3.3M350.26 76.63v3.3M381.66 76.63v3.3M395.46 76.63v3.3M370.24 80.36v3.3M396.88 80.36v3.3M403.83 80.36v3.3" stroke="#231f20" stroke-width="1.5" fill="none"/>
<g fill="#231f20"><rect x="250.56" y="43.13" width="3.07" height="3.3"/></g>
<path d="M447.58 39.4v3.3M486.56 39.4v3.3M448.23 46.85v3.3M421.07 50.57v3.3M436.6 50.57v3.3M442.47 50.57v3.3M446.09 50.57v3.3M460.98 50.57v3.3M486.65 50.57v3.3M483.12 58.02v3.3M422.47 61.74v3.3M428.23 61.74v3.3M430.56 61.74v3.3M451.49 61.74v3.3M453.35 61.74v3.3M455.21 61.74v3.3M482.47 61.74v3.3M427.67 69.19v3.3M428.42 69.19v3.3M434.28 69.19v3.3M459.4 69.19v3.3M465.44 69.19v3.3M483.12 69.19v3.3M486.65 69.19v3.3M487.77 69.19v3.3M495.95 69.19v3.3M442.65 72.91v3.3M485.91 72.91v3.3M459.21 76.63v3.3M483.4 76.63v3.3M477.07 80.36v3.3M517.41 39.4v3.3M535.3 39.4v3.3M537.01 39.4v3.3M540.06 39.4v3.3M542.44 39.4v3.3M545.96 39.4v3.3M515.61 43.13v3.3M572.12 43.13v3.3M550.05 46.85v3.3M512.47 50.57v3.3M515.04 61.74v3.3M529.4 61.74v3.3M546.24 61.74v3.3M583.35 61.74v3.3M564.8 65.46v3.3M517.98 69.19v3.3M537.49 69.19v3.3M551.76 69.19v3.3M585.25 76.63v3.3M526.93 80.36v3.3" stroke="#231f20" stroke-width="1.5" fill="none"/>
<path d="M623.58 39.4v3.3M667.02 39.4v3.3M601.63 43.13v3.3M640.05 43.13v3.3M609.81 46.85v3.3M611.21 46.85v3.3M612.6 46.85v3.3M615.58 46.85v3.3M623.3 46.85v3.3M668.42 50.57v3.3M611.02 54.3v3.3M624.23 54.3v3.3M626.09 54.3v3.3M627.49 54.3v3.3M629.35 54.3v3.3M644.23 54.3v3.3M650.47 54.3v3.3M669.53 54.3v3.3M674.47 58.02v3.3M621.16 61.74v3.3M627.21 61.74v3.3M675.4 61.74v3.3M605.35 65.46v3.3M635.21 65.46v3.3M642.56 65.46v3.3M627.3 69.19v3.3M656.33 69.19v3.3M657.72 69.19v3.3M661.63 69.19v3.3M676.79 69.19v3.3M677.72 69.19v3.3M604.05 72.91v3.3M626.74 72.91v3.3M651.95 72.91v3.3M641.44 76.63v3.3M662.56 76.63v3.3M672.42 76.63v3.3M626.74 80.36v3.3M643.3 80.36v3.3M649.81 80.36v3.3M678.48 39.4v3.3M690.84 39.4v3.3M692.27 39.4v3.3M693.22 39.4v3.3M696.84 39.4v3.3M703.21 39.4v3.3M716.06 39.4v3.3M742.89 39.4v3.3M755.55 39.4v3.3M689.23 43.13v3.3M693.7 43.13v3.3M719.86 43.13v3.3M752.02 43.13v3.3M720.06 46.85v3.3M699.12 50.57v3.3M754.12 50.57v3.3M718.44 54.3v3.3M711.3 58.02v3.3M757.45 58.02v3.3M735.09 61.74v3.3M763.44 61.74v3.3M680.38 65.46v3.3M737.47 65.46v3.3M740.32 65.46v3.3M685.42 69.19v3.3M699.12 69.19v3.3M745.08 69.19v3.3M747.93 69.19v3.3M680.38 72.91v3.3M702.55 72.91v3.3M718.72 72.91v3.3M722.24 72.91v3.3M723.48 72.91v3.3M725.1 72.91v3.3M727.95 72.91v3.3M740.32 72.91v3.3M751.45 72.91v3.3M706.35 76.63v3.3M714.92 76.63v3.3M729.86 76.63v3.3M736.99 76.63v3.3M707.5 80.36v3.3M714.16 80.36v3.3M719.67 80.36v3.3M751.07 80.36v3.3" stroke="#231f20" stroke-width="1.5" fill="none"/>
<path d="M790.28 39.4v3.3M827.67 39.4v3.3M847.21 43.13v3.3M789.07 46.85v3.3M798.09 46.85v3.3M830.28 46.85v3.3M834.84 46.85v3.3M787.86 50.57v3.3M841.16 50.57v3.3M793.72 54.3v3.3M803.21 54.3v3.3M796.51 58.02v3.3M850.93 61.74v3.3M795.58 65.46v3.3M818.37 65.46v3.3M843.95 65.46v3.3M851.67 65.46v3.3M795.58 69.19v3.3M775.12 72.91v3.3M773.91 76.63v3.3M849.81 76.63v3.3M865.61 39.4v3.3M882.73 39.4v3.3M931.55 39.4v3.3M873.79 43.13v3.3M915.37 43.13v3.3M882.73 46.85v3.3M886.16 46.85v3.3M890.63 46.85v3.3M891.58 46.85v3.3M894.91 46.85v3.3M933.16 46.85v3.3M866.84 50.57v3.3M891.11 50.57v3.3M901.29 50.57v3.3M941.73 58.02v3.3M884.92 65.46v3.3M894.91 69.19v3.3M873.51 72.91v3.3M875.69 76.63v3.3M896.34 76.63v3.3M937.54 76.63v3.3M896.34 80.36v3.3M914.89 80.36v3.3M928.02 80.36v3.3" stroke="#231f20" stroke-width="1.5" fill="none"/>
<g fill="#231f20"><rect x="800.7" y="39.4" width="2.33" height="3.3"/><rect x="788.14" y="61.74" width="1.86" height="3.3"/></g>
<path d="M104.45 157.15v4.2M125.62 157.15v4.2M148.48 162.45v4.2M89.87 167.75v4.2M121.86 167.75v4.2M127.78 167.75v4.2M121.86 183.65v4.2M71.34 188.95v4.2M95.04 194.25v4.2M183.16 157.15v4.2M226.45 157.15v4.2M227.21 157.15v4.2M174.6 162.45v4.2M218.84 162.45v4.2M164.99 167.75v4.2M191.72 178.35v4.2M196.29 178.35v4.2M178.59 183.65v4.2" stroke="#231f20" stroke-width="1.5" fill="none"/>
<path d="M305.46 157.81v4.2M251.61 169.74v4.2M258.08 169.74v4.2M252.84 175.7v4.2M262.36 181.66v4.2M298.04 187.62v4.2M298.52 193.59v4.2M300.13 193.59v4.2M394.03 157.81v4.2M409.73 157.81v4.2M362.16 163.78v4.2M366.72 163.78v4.2M367.29 163.78v4.2M399.07 163.78v4.2M346.93 169.74v4.2M412.11 181.66v4.2" stroke="#231f20" stroke-width="1.5" fill="none"/>
<path d="M471 157.15v4.2M476.13 157.15v4.2M486.22 157.15v4.2M473.37 162.45v4.2M490.02 162.45v4.2M498.78 162.45v4.2M419.62 167.75v4.2M472.9 167.75v4.2M474.23 167.75v4.2M475.47 167.75v4.2M478.61 167.75v4.2M480.7 167.75v4.2M486.22 167.75v4.2M472.42 173.05v4.2M449.49 178.35v4.2M461.86 178.35v4.2M468.14 178.35v4.2M469.28 178.35v4.2M470.42 178.35v4.2M472.61 178.35v4.2M473.56 178.35v4.2M474.52 178.35v4.2M478.99 178.35v4.2M497.64 178.35v4.2M448.83 183.65v4.2M471.95 183.65v4.2M474.23 183.65v4.2M479.94 183.65v4.2M480.7 183.65v4.2M481.46 183.65v4.2M454.06 188.95v4.2M475.47 188.95v4.2M478.32 188.95v4.2M480.51 188.95v4.2M474.04 194.25v4.2M475.47 194.25v4.2M476.89 194.25v4.2M478.32 194.25v4.2M479.75 194.25v4.2M484.32 194.25v4.2M571.46 162.45v4.2M576.98 162.45v4.2M553.57 173.05v4.2M547.96 178.35v4.2M568.13 188.95v4.2M519.13 194.25v4.2" stroke="#231f20" stroke-width="1.5" fill="none"/>
<path d="M647.47 157.15v4.2M635.01 162.45v4.2M669.07 162.45v4.2M645.09 173.05v4.2M647.66 173.05v4.2M626.06 178.35v4.2M630.25 178.35v4.2M626.06 183.65v4.2M662.41 183.65v4.2M622.92 188.95v4.2M624.54 188.95v4.2M753.45 157.15v4.2M761.92 157.15v4.2M710.54 162.45v4.2M757.45 178.35v4.2M747.65 183.65v4.2M753.36 188.95v4.2" stroke="#231f20" stroke-width="1.5" fill="none"/>
<path d="M822.42 157.15v4.2M779.61 178.35v4.2M806.82 183.65v4.2M808.15 183.65v4.2M809.86 183.65v4.2M833.18 194.25v4.2M883.31 162.45v4.2M891.11 162.45v4.2M899 162.45v4.2M889.68 167.75v4.2M876.84 173.05v4.2M868.56 178.35v4.2M892.82 178.35v4.2M930.12 194.25v4.2M931.26 194.25v4.2" stroke="#231f20" stroke-width="1.5" fill="none"/>
<path d="M104.72 283.9v4.2M124.42 283.9v4.2M150.39 283.9v4.2M149.63 289.1v4.2M81.32 294.3v4.2M106.82 294.3v4.2M110.15 294.3v4.2M128.89 294.3v4.2M139.64 294.3v4.2M137.93 299.5v4.2M70.18 304.7v4.2M201.62 273.5v4.2M208.85 278.7v4.2M219.51 283.9v4.2M194.29 294.3v4.2" stroke="#231f20" stroke-width="1.5" fill="none"/>
<path d="M278.34 274.15v4.2M292.33 274.15v4.2M310.88 274.15v4.2M243.62 280v4.2M253.13 280v4.2M309.46 280v4.2M248.75 297.55v4.2M299.66 297.55v4.2M252.84 303.4v4.2M312.79 303.4v4.2M413.73 274.15v4.2M333.42 297.55v4.2M363.39 297.55v4.2M393.08 297.55v4.2M402.88 297.55v4.2M408.3 303.4v4.2" stroke="#231f20" stroke-width="1.5" fill="none"/>
<path d="M437.88 273.5v4.2M463.86 273.5v4.2M473.37 273.5v4.2M474.33 273.5v4.2M455.2 283.9v4.2M467.86 283.9v4.2M447.59 289.1v4.2M425.99 294.3v4.2M430.27 294.3v4.2M463.1 294.3v4.2M467.86 294.3v4.2M477.85 294.3v4.2M494.5 299.5v4.2M478.32 304.7v4.2M430.27 309.9v4.2M568.41 273.5v4.2M510.37 278.7v4.2M511.32 289.1v4.2M543.67 294.3v4.2M511.51 299.5v4.2M512.47 299.5v4.2M588.58 299.5v4.2" stroke="#231f20" stroke-width="1.5" fill="none"/>
<g fill="#231f20"><rect x="470.23" y="283.9" width="3.33" height="4.2"/><rect x="468.14" y="289.1" width="5.23" height="4.2"/><rect x="470.04" y="299.5" width="7.61" height="4.2"/><rect x="471" y="304.7" width="4.76" height="4.2"/><rect x="468.33" y="309.9" width="6.18" height="4.2"/></g>
<path d="M658.6 273.5v4.2M660.32 283.9v4.2M614.07 289.1v4.2M650.8 289.1v4.2M603.42 294.3v4.2M634.34 294.3v4.2M640.33 299.5v4.2M666.98 309.9v4.2M673.83 309.9v4.2M674.78 309.9v4.2M729.57 273.5v4.2M759.07 273.5v4.2M734.14 283.9v4.2M756.97 283.9v4.2M683.71 294.3v4.2M705.78 294.3v4.2M736.04 294.3v4.2M730.14 299.5v4.2M751.26 299.5v4.2M680.85 304.7v4.2M696.08 304.7v4.2M752.88 304.7v4.2M753.83 304.7v4.2M745.08 309.9v4.2" stroke="#231f20" stroke-width="1.5" fill="none"/>
<path d="M770.85 273.5v4.2M817 273.5v4.2M798.64 278.7v4.2M786.74 283.9v4.2M828.13 283.9v4.2M773.9 299.5v4.2M789.88 299.5v4.2M805.87 299.5v4.2M816.53 299.5v4.2M828.42 299.5v4.2M841.45 299.5v4.2M851.54 299.5v4.2M787.22 309.9v4.2M794.83 309.9v4.2M879.5 278.7v4.2M942.01 278.7v4.2M871.13 289.1v4.2M869.03 299.5v4.2M883.97 299.5v4.2M916.32 299.5v4.2M925.84 299.5v4.2M929.17 299.5v4.2M936.78 304.7v4.2" stroke="#231f20" stroke-width="1.5" fill="none"/>
<path d="M130.41 389.63v4.2M125.85 394.97v4.2M129.65 394.97v4.2M130.79 394.97v4.2M131.94 394.97v4.2M133.93 394.97v4.2M66.85 400.3v4.2M119.38 400.3v4.2M125.08 400.3v4.2M126.8 400.3v4.2M128.22 400.3v4.2M132.7 400.3v4.2M145.64 400.3v4.2M70.47 405.63v4.2M88.74 405.63v4.2M128.51 405.63v4.2M140.12 405.63v4.2M151.06 405.63v4.2M126.99 410.97v4.2M128.51 410.97v4.2M130.41 410.97v4.2M135.17 410.97v4.2M93.31 416.3v4.2M104.91 416.3v4.2M109.67 416.3v4.2M117.47 416.3v4.2M118.71 416.3v4.2M120.14 416.3v4.2M126.61 416.3v4.2M129.65 416.3v4.2M131.08 416.3v4.2M132.51 416.3v4.2M127.27 421.63v4.2M129.18 421.63v4.2M131.36 421.63v4.2M139.83 421.63v4.2M121.37 426.97v4.2M133.46 426.97v4.2M180.69 389.63v4.2M183.54 389.63v4.2M215.51 389.63v4.2M216.84 389.63v4.2M218.17 389.63v4.2M218.36 394.97v4.2M219.7 394.97v4.2M177.45 405.63v4.2M232.54 405.63v4.2M195.72 416.3v4.2M199.53 416.3v4.2M200.95 416.3v4.2M208.56 416.3v4.2M214.94 416.3v4.2M221.41 416.3v4.2M183.16 426.97v4.2" stroke="#231f20" stroke-width="1.5" fill="none"/>
<g fill="#231f20"><rect x="131.75" y="405.63" width="3.62" height="4.2"/></g>
<path d="M279.01 389.63v4.2M298.04 389.63v4.2M306.6 389.63v4.2M300.13 394.97v4.2M306.13 394.97v4.2M310.88 394.97v4.2M312.31 394.97v4.2M313.74 394.97v4.2M317.83 394.97v4.2M250.94 400.3v4.2M267.59 400.3v4.2M282.53 400.3v4.2M299.47 400.3v4.2M303.27 400.3v4.2M312.31 400.3v4.2M313.26 400.3v4.2M319.92 400.3v4.2M321.35 400.3v4.2M322.78 400.3v4.2M324.21 400.3v4.2M295.95 405.63v4.2M306.6 405.63v4.2M310.88 405.63v4.2M312.12 405.63v4.2M327.54 405.63v4.2M259.51 410.97v4.2M264.93 410.97v4.2M267.12 410.97v4.2M268.54 410.97v4.2M270.26 410.97v4.2M294.71 410.97v4.2M311.55 410.97v4.2M313.45 410.97v4.2M272.83 416.3v4.2M295.38 416.3v4.2M299.18 416.3v4.2M309.46 416.3v4.2M311.17 416.3v4.2M321.35 416.3v4.2M324.49 416.3v4.2M326.11 416.3v4.2M327.73 416.3v4.2M329.25 416.3v4.2M289.95 421.63v4.2M291.38 421.63v4.2M293.28 421.63v4.2M294.71 421.63v4.2M296.14 421.63v4.2M315.64 421.63v4.2M316.88 421.63v4.2M318.21 421.63v4.2M270.26 426.97v4.2M273.49 426.97v4.2M308.7 426.97v4.2M317.07 426.97v4.2M408.02 389.63v4.2M330 400.3v4.2M343.6 400.3v4.2M347.5 400.3v4.2M348.26 400.3v4.2M330.28 410.97v4.2M343.6 405.63v4.2M408.3 405.63v4.2M334.09 421.63v4.2M340.37 421.63v4.2M341.13 421.63v4.2M385.18 426.97v4.2M399.07 426.97v4.2M401.64 426.97v4.2M412.11 426.97v4.2" stroke="#231f20" stroke-width="1.5" fill="none"/>
<path d="M427.89 389.63v4.2M466.9 400.3v4.2M472.61 405.63v4.2M478.04 405.63v4.2M437.12 416.3v4.2M444.83 421.63v4.2M471.95 421.63v4.2M424.56 426.97v4.2M471.95 426.97v4.2M477.85 426.97v4.2M482.32 426.97v4.2M526.07 389.63v4.2M554.81 389.63v4.2M522.17 394.97v4.2M529.78 405.63v4.2M543.86 416.3v4.2M544.82 416.3v4.2M510.75 421.63v4.2M511.71 421.63v4.2M515.04 421.63v4.2M527.4 426.97v4.2M535.11 426.97v4.2M569.08 426.97v4.2M586.87 426.97v4.2" stroke="#231f20" stroke-width="1.5" fill="none"/>
<path d="M600.56 389.63v4.2M625.3 394.97v4.2M638.62 394.97v4.2M640.53 394.97v4.2M632.15 400.3v4.2M652.13 400.3v4.2M660.98 400.3v4.2M662.88 400.3v4.2M664.79 400.3v4.2M666.69 400.3v4.2M670.31 400.3v4.2M671.26 400.3v4.2M617.88 405.63v4.2M629.77 405.63v4.2M617.5 410.97v4.2M655.94 410.97v4.2M625.3 426.97v4.2M636.24 426.97v4.2M637.2 426.97v4.2M741.56 389.63v4.2M708.92 394.97v4.2M735.09 394.97v4.2M711.3 400.3v4.2M717.01 400.3v4.2M724.34 400.3v4.2M751.26 400.3v4.2M726.81 405.63v4.2M745.36 405.63v4.2M749.84 405.63v4.2M752.69 405.63v4.2M764.11 405.63v4.2M733.66 410.97v4.2M735.09 410.97v4.2M736.52 410.97v4.2M742.22 410.97v4.2M691.32 416.3v4.2M728.9 416.3v4.2M731.76 416.3v4.2M733.19 416.3v4.2M755.83 416.3v4.2M725.57 421.63v4.2M743.46 421.63v4.2M746.7 421.63v4.2M765.06 421.63v4.2M743.27 426.97v4.2M744.22 426.97v4.2M750.03 426.97v4.2" stroke="#231f20" stroke-width="1.5" fill="none"/>
<path d="M798.64 394.97v4.2M831.18 394.97v4.2M832.13 394.97v4.2M840.5 394.97v4.2M842.02 394.97v4.2M844.88 394.97v4.2M847.45 394.97v4.2M795.12 400.3v4.2M796.07 400.3v4.2M835.36 405.63v4.2M810.82 416.3v4.2M813.48 416.3v4.2M827.75 416.3v4.2M773.23 426.97v4.2M807.49 426.97v4.2M824.14 426.97v4.2M931.83 389.63v4.2M936.59 389.63v4.2M916.8 394.97v4.2M926.12 394.97v4.2M933.73 394.97v4.2M935.64 394.97v4.2M939.16 405.63v4.2M895.1 410.97v4.2M930.88 410.97v4.2M860.85 416.3v4.2M910.61 416.3v4.2M942.01 416.3v4.2" stroke="#231f20" stroke-width="1.5" fill="none"/>
<path d="M79.22 506.2v4.2M90.64 506.2v4.2M93.97 506.2v4.2M101.39 506.2v4.2M103.96 506.2v4.2M141.83 506.2v4.2M91.78 511.5v4.2M93.02 511.5v4.2M105.39 511.5v4.2M111.76 511.5v4.2M107.29 516.8v4.2M108.24 516.8v4.2M113.48 522.1v4.2M133.93 522.1v4.2M91.4 527.4v4.2M134.41 527.4v4.2M74.94 532.7v4.2M85.41 532.7v4.2M146.3 538v4.2M125.37 543.3v4.2M197.34 506.2v4.2M171.46 511.5v4.2M184.97 511.5v4.2M156.71 516.8v4.2M221.41 516.8v4.2M227.88 522.1v4.2M163.08 527.4v4.2M171.46 532.7v4.2M174.31 532.7v4.2M158.61 538v4.2M189.53 538v4.2" stroke="#231f20" stroke-width="1.5" fill="none"/>
<path d="M266.64 511.5v4.2M300.89 511.5v4.2M287.29 516.8v4.2M294.42 516.8v4.2M298.52 516.8v4.2M295.66 522.1v4.2M304.99 522.1v4.2M255.22 532.7v4.2M272.16 532.7v4.2M278.06 532.7v4.2M284.72 532.7v4.2M275.97 538v4.2M286.34 543.3v4.2M307.08 543.3v4.2M396.41 506.2v4.2M375.29 511.5v4.2M380.04 511.5v4.2M403.55 522.1v4.2M329.33 527.4v4.2M344.27 532.7v4.2M364.53 538v4.2" stroke="#231f20" stroke-width="1.5" fill="none"/>
<path d="M428.56 506.2v4.2M474.23 506.2v4.2M489.07 511.5v4.2M493.83 511.5v4.2M495.16 511.5v4.2M425.71 516.8v4.2M443.4 516.8v4.2M472.9 516.8v4.2M482.6 516.8v4.2M484.32 516.8v4.2M503.54 516.8v4.2M420.95 522.1v4.2M476.89 522.1v4.2M478.32 522.1v4.2M479.56 522.1v4.2M481.84 522.1v4.2M420 527.4v4.2M452.63 527.4v4.2M458.82 527.4v4.2M481.46 527.4v4.2M483.55 527.4v4.2M490.98 532.7v4.2M453.87 538v4.2M475.75 538v4.2M482.6 538v4.2M481.65 543.3v4.2M483.08 543.3v4.2M484.32 543.3v4.2M486.88 543.3v4.2M544.53 506.2v4.2M580.97 516.8v4.2M527.69 522.1v4.2M569.08 522.1v4.2M586.4 522.1v4.2M553.38 527.4v4.2M560.99 527.4v4.2M519.32 543.3v4.2M584.49 543.3v4.2" stroke="#231f20" stroke-width="1.5" fill="none"/>
<g fill="#231f20"><rect x="476.89" y="506.2" width="4.28" height="4.2"/><rect x="479.27" y="511.5" width="3.33" height="4.2"/><rect x="471.95" y="522.1" width="2.85" height="4.2"/><rect x="485.65" y="538" width="3.14" height="4.2"/></g>
<path d="M662.22 506.2v4.2M672.4 511.5v4.2M635.77 522.1v4.2M640.72 522.1v4.2M652.89 522.1v4.2M667.64 522.1v4.2M677.63 522.1v4.2M679.06 522.1v4.2M660.32 527.4v4.2M652.42 532.7v4.2M607.41 538v4.2M651.47 538v4.2M657.46 538v4.2M677.44 538v4.2M651.75 543.3v4.2M660.32 543.3v4.2M680.85 511.5v4.2M716.53 516.8v4.2M762.21 516.8v4.2M764.11 516.8v4.2M746.7 522.1v4.2M754.88 522.1v4.2M681.04 527.4v4.2M691.51 527.4v4.2M696.27 527.4v4.2M740.99 527.4v4.2M759.35 527.4v4.2M685.42 532.7v4.2M695.13 532.7v4.2M737.47 532.7v4.2M680.66 538v4.2M682.28 538v4.2M694.37 538v4.2M708.26 538v4.2M715.87 538v4.2M739.08 543.3v4.2M741.56 543.3v4.2M752.02 543.3v4.2" stroke="#231f20" stroke-width="1.5" fill="none"/>
<g fill="#231f20"><rect x="667.36" y="506.2" width="5.52" height="4.2"/><rect x="676.21" y="511.5" width="2.85" height="4.2"/><rect x="649.09" y="516.8" width="2.66" height="4.2"/><rect x="660.32" y="516.8" width="3.24" height="4.2"/><rect x="669.26" y="516.8" width="4.38" height="4.2"/><rect x="673.07" y="522.1" width="3.14" height="4.2"/><rect x="669.07" y="527.4" width="4.57" height="4.2"/><rect x="662.22" y="543.3" width="2.57" height="4.2"/><rect x="675.25" y="543.3" width="5.42" height="4.2"/><rect x="680.38" y="532.7" width="3.33" height="4.2"/></g>
<path d="M779.61 511.5v4.2M791.31 511.5v4.2M798.26 511.5v4.2M801.11 511.5v4.2M806.82 516.8v4.2M785.89 522.1v4.2M799.21 522.1v4.2M782.46 527.4v4.2M796.73 527.4v4.2M811.01 532.7v4.2M835.36 532.7v4.2M780.84 543.3v4.2M813.48 543.3v4.2M857.44 543.3v4.2M906.05 506.2v4.2M937.54 511.5v4.2M871.13 516.8v4.2M882.73 516.8v4.2M890.16 516.8v4.2M939.44 516.8v4.2M914.51 522.1v4.2M915.47 522.1v4.2M899.39 527.4v4.2M912.99 532.7v4.2M935.35 532.7v4.2M914.89 543.3v4.2" stroke="#231f20" stroke-width="1.5" fill="none"/>
<line x1="115.45" y1="36.75" x2="115.45" y2="136.3" stroke="#c83246" stroke-width="1.4" stroke-dasharray="2.3 1.4"/>
<line x1="291.45" y1="36.75" x2="291.45" y2="136.3" stroke="#c83246" stroke-width="1.4" stroke-dasharray="2.3 1.4"/>
<line x1="467.45" y1="36.75" x2="467.45" y2="136.3" stroke="#c83246" stroke-width="1.4" stroke-dasharray="2.3 1.4"/>
<line x1="643.45" y1="36.75" x2="643.45" y2="136.3" stroke="#c83246" stroke-width="1.4" stroke-dasharray="2.3 1.4"/>
<line x1="819.45" y1="36.75" x2="819.45" y2="136.3" stroke="#c83246" stroke-width="1.4" stroke-dasharray="2.3 1.4"/>
<line x1="115.45" y1="152.85" x2="115.45" y2="252.5" stroke="#c83246" stroke-width="1.4" stroke-dasharray="2.3 1.4"/>
<line x1="291.45" y1="152.85" x2="291.45" y2="252.5" stroke="#c83246" stroke-width="1.4" stroke-dasharray="2.3 1.4"/>
<line x1="467.45" y1="152.85" x2="467.45" y2="252.5" stroke="#c83246" stroke-width="1.4" stroke-dasharray="2.3 1.4"/>
<line x1="643.45" y1="152.85" x2="643.45" y2="252.5" stroke="#c83246" stroke-width="1.4" stroke-dasharray="2.3 1.4"/>
<line x1="819.45" y1="152.85" x2="819.45" y2="252.5" stroke="#c83246" stroke-width="1.4" stroke-dasharray="2.3 1.4"/>
<line x1="115.45" y1="269.3" x2="115.45" y2="368.9" stroke="#c83246" stroke-width="1.4" stroke-dasharray="2.3 1.4"/>
<line x1="291.45" y1="269.3" x2="291.45" y2="368.9" stroke="#c83246" stroke-width="1.4" stroke-dasharray="2.3 1.4"/>
<line x1="467.45" y1="269.3" x2="467.45" y2="368.9" stroke="#c83246" stroke-width="1.4" stroke-dasharray="2.3 1.4"/>
<line x1="643.45" y1="269.3" x2="643.45" y2="368.9" stroke="#c83246" stroke-width="1.4" stroke-dasharray="2.3 1.4"/>
<line x1="819.45" y1="269.3" x2="819.45" y2="368.9" stroke="#c83246" stroke-width="1.4" stroke-dasharray="2.3 1.4"/>
<line x1="115.45" y1="385.9" x2="115.45" y2="485" stroke="#c83246" stroke-width="1.4" stroke-dasharray="2.3 1.4"/>
<line x1="291.45" y1="385.9" x2="291.45" y2="485" stroke="#c83246" stroke-width="1.4" stroke-dasharray="2.3 1.4"/>
<line x1="467.45" y1="385.9" x2="467.45" y2="485" stroke="#c83246" stroke-width="1.4" stroke-dasharray="2.3 1.4"/>
<line x1="643.45" y1="385.9" x2="643.45" y2="485" stroke="#c83246" stroke-width="1.4" stroke-dasharray="2.3 1.4"/>
<line x1="819.45" y1="385.9" x2="819.45" y2="485" stroke="#c83246" stroke-width="1.4" stroke-dasharray="2.3 1.4"/>
<line x1="115.45" y1="502.3" x2="115.45" y2="601.35" stroke="#c83246" stroke-width="1.4" stroke-dasharray="2.3 1.4"/>
<line x1="291.45" y1="502.3" x2="291.45" y2="601.35" stroke="#c83246" stroke-width="1.4" stroke-dasharray="2.3 1.4"/>
<line x1="467.45" y1="502.3" x2="467.45" y2="601.35" stroke="#c83246" stroke-width="1.4" stroke-dasharray="2.3 1.4"/>
<line x1="643.45" y1="502.3" x2="643.45" y2="601.35" stroke="#c83246" stroke-width="1.4" stroke-dasharray="2.3 1.4"/>
<line x1="819.45" y1="502.3" x2="819.45" y2="601.35" stroke="#c83246" stroke-width="1.4" stroke-dasharray="2.3 1.4"/>
<rect x="66.4" y="36.75" width="172.3" height="99.55" fill="none" stroke="#231f20" stroke-width="1.45"/>
<line x1="66.4" y1="86.4" x2="238.7" y2="86.4" stroke="#231f20" stroke-width="1.45"/>
<line x1="115.45" y1="136.3" x2="115.45" y2="138.3" stroke="#231f20" stroke-width="1.1"/>
<line x1="238.7" y1="136.3" x2="238.7" y2="138.3" stroke="#231f20" stroke-width="1.1"/>
<line x1="64" y1="52.22" x2="66.4" y2="52.22" stroke="#231f20" stroke-width="1.1"/>
<line x1="64" y1="67.11" x2="66.4" y2="67.11" stroke="#231f20" stroke-width="1.1"/>
<line x1="64" y1="82.01" x2="66.4" y2="82.01" stroke="#231f20" stroke-width="1.1"/>
<line x1="64" y1="37.33" x2="66.4" y2="37.33" stroke="#231f20" stroke-width="1.1"/>
<line x1="64" y1="136.3" x2="66.4" y2="136.3" stroke="#231f20" stroke-width="1.1"/>
<line x1="64" y1="113.8" x2="66.4" y2="113.8" stroke="#231f20" stroke-width="1.1"/>
<line x1="64" y1="91.3" x2="66.4" y2="91.3" stroke="#231f20" stroke-width="1.1"/>
<rect x="242.4" y="36.75" width="172.3" height="99.55" fill="none" stroke="#231f20" stroke-width="1.45"/>
<line x1="242.4" y1="86.4" x2="414.7" y2="86.4" stroke="#231f20" stroke-width="1.45"/>
<line x1="291.45" y1="34.95" x2="291.45" y2="36.75" stroke="#231f20" stroke-width="1.1"/>
<line x1="291.45" y1="136.3" x2="291.45" y2="138.3" stroke="#231f20" stroke-width="1.1"/>
<line x1="414.7" y1="136.3" x2="414.7" y2="138.3" stroke="#231f20" stroke-width="1.1"/>
<line x1="240" y1="52.22" x2="242.4" y2="52.22" stroke="#231f20" stroke-width="1.1"/>
<line x1="240" y1="67.11" x2="242.4" y2="67.11" stroke="#231f20" stroke-width="1.1"/>
<line x1="240" y1="82.01" x2="242.4" y2="82.01" stroke="#231f20" stroke-width="1.1"/>
<line x1="240" y1="37.33" x2="242.4" y2="37.33" stroke="#231f20" stroke-width="1.1"/>
<line x1="240" y1="136.3" x2="242.4" y2="136.3" stroke="#231f20" stroke-width="1.1"/>
<line x1="240" y1="113.8" x2="242.4" y2="113.8" stroke="#231f20" stroke-width="1.1"/>
<line x1="240" y1="91.3" x2="242.4" y2="91.3" stroke="#231f20" stroke-width="1.1"/>
<rect x="418.4" y="36.75" width="172.3" height="99.55" fill="none" stroke="#231f20" stroke-width="1.45"/>
<line x1="418.4" y1="86.4" x2="590.7" y2="86.4" stroke="#231f20" stroke-width="1.45"/>
<line x1="467.45" y1="34.95" x2="467.45" y2="36.75" stroke="#231f20" stroke-width="1.1"/>
<line x1="467.45" y1="136.3" x2="467.45" y2="138.3" stroke="#231f20" stroke-width="1.1"/>
<line x1="590.7" y1="136.3" x2="590.7" y2="138.3" stroke="#231f20" stroke-width="1.1"/>
<line x1="416" y1="52.22" x2="418.4" y2="52.22" stroke="#231f20" stroke-width="1.1"/>
<line x1="416" y1="67.11" x2="418.4" y2="67.11" stroke="#231f20" stroke-width="1.1"/>
<line x1="416" y1="82.01" x2="418.4" y2="82.01" stroke="#231f20" stroke-width="1.1"/>
<line x1="416" y1="37.33" x2="418.4" y2="37.33" stroke="#231f20" stroke-width="1.1"/>
<line x1="416" y1="136.3" x2="418.4" y2="136.3" stroke="#231f20" stroke-width="1.1"/>
<line x1="416" y1="113.8" x2="418.4" y2="113.8" stroke="#231f20" stroke-width="1.1"/>
<line x1="416" y1="91.3" x2="418.4" y2="91.3" stroke="#231f20" stroke-width="1.1"/>
<rect x="594.4" y="36.75" width="172.3" height="99.55" fill="none" stroke="#231f20" stroke-width="1.45"/>
<line x1="594.4" y1="86.4" x2="766.7" y2="86.4" stroke="#231f20" stroke-width="1.45"/>
<line x1="643.45" y1="34.95" x2="643.45" y2="36.75" stroke="#231f20" stroke-width="1.1"/>
<line x1="643.45" y1="136.3" x2="643.45" y2="138.3" stroke="#231f20" stroke-width="1.1"/>
<line x1="766.7" y1="136.3" x2="766.7" y2="138.3" stroke="#231f20" stroke-width="1.1"/>
<line x1="592" y1="52.22" x2="594.4" y2="52.22" stroke="#231f20" stroke-width="1.1"/>
<line x1="592" y1="67.11" x2="594.4" y2="67.11" stroke="#231f20" stroke-width="1.1"/>
<line x1="592" y1="82.01" x2="594.4" y2="82.01" stroke="#231f20" stroke-width="1.1"/>
<line x1="592" y1="37.33" x2="594.4" y2="37.33" stroke="#231f20" stroke-width="1.1"/>
<line x1="592" y1="136.3" x2="594.4" y2="136.3" stroke="#231f20" stroke-width="1.1"/>
<line x1="592" y1="113.8" x2="594.4" y2="113.8" stroke="#231f20" stroke-width="1.1"/>
<line x1="592" y1="91.3" x2="594.4" y2="91.3" stroke="#231f20" stroke-width="1.1"/>
<rect x="770.4" y="36.75" width="172.3" height="99.55" fill="none" stroke="#231f20" stroke-width="1.45"/>
<line x1="770.4" y1="86.4" x2="942.7" y2="86.4" stroke="#231f20" stroke-width="1.45"/>
<line x1="819.45" y1="34.95" x2="819.45" y2="36.75" stroke="#231f20" stroke-width="1.1"/>
<line x1="819.45" y1="136.3" x2="819.45" y2="138.3" stroke="#231f20" stroke-width="1.1"/>
<line x1="942.7" y1="136.3" x2="942.7" y2="138.3" stroke="#231f20" stroke-width="1.1"/>
<line x1="768" y1="52.22" x2="770.4" y2="52.22" stroke="#231f20" stroke-width="1.1"/>
<line x1="942.7" y1="52.22" x2="944.9" y2="52.22" stroke="#231f20" stroke-width="1.1"/>
<line x1="768" y1="67.11" x2="770.4" y2="67.11" stroke="#231f20" stroke-width="1.1"/>
<line x1="942.7" y1="67.11" x2="944.9" y2="67.11" stroke="#231f20" stroke-width="1.1"/>
<line x1="768" y1="82.01" x2="770.4" y2="82.01" stroke="#231f20" stroke-width="1.1"/>
<line x1="942.7" y1="82.01" x2="944.9" y2="82.01" stroke="#231f20" stroke-width="1.1"/>
<line x1="768" y1="37.33" x2="770.4" y2="37.33" stroke="#231f20" stroke-width="1.1"/>
<line x1="942.7" y1="37.33" x2="944.9" y2="37.33" stroke="#231f20" stroke-width="1.1"/>
<line x1="768" y1="136.3" x2="770.4" y2="136.3" stroke="#231f20" stroke-width="1.1"/>
<line x1="942.7" y1="136.3" x2="944.9" y2="136.3" stroke="#231f20" stroke-width="1.1"/>
<line x1="768" y1="113.8" x2="770.4" y2="113.8" stroke="#231f20" stroke-width="1.1"/>
<line x1="942.7" y1="113.8" x2="944.9" y2="113.8" stroke="#231f20" stroke-width="1.1"/>
<line x1="768" y1="91.3" x2="770.4" y2="91.3" stroke="#231f20" stroke-width="1.1"/>
<line x1="942.7" y1="91.3" x2="944.9" y2="91.3" stroke="#231f20" stroke-width="1.1"/>
<rect x="53.0" y="127.3" width="7.0" height="9.3" fill="#000"/>
<rect x="66.4" y="152.85" width="172.3" height="99.65" fill="none" stroke="#231f20" stroke-width="1.45"/>
<line x1="66.4" y1="202.85" x2="238.7" y2="202.85" stroke="#231f20" stroke-width="1.45"/>
<line x1="115.45" y1="151.05" x2="115.45" y2="152.85" stroke="#231f20" stroke-width="1.1"/>
<line x1="115.45" y1="252.5" x2="115.45" y2="254.5" stroke="#231f20" stroke-width="1.1"/>
<line x1="238.7" y1="252.5" x2="238.7" y2="254.5" stroke="#231f20" stroke-width="1.1"/>
<line x1="64" y1="175.15" x2="66.4" y2="175.15" stroke="#231f20" stroke-width="1.1"/>
<line x1="64" y1="196.35" x2="66.4" y2="196.35" stroke="#231f20" stroke-width="1.1"/>
<line x1="64" y1="153.95" x2="66.4" y2="153.95" stroke="#231f20" stroke-width="1.1"/>
<line x1="64" y1="252.5" x2="66.4" y2="252.5" stroke="#231f20" stroke-width="1.1"/>
<line x1="64" y1="227.6" x2="66.4" y2="227.6" stroke="#231f20" stroke-width="1.1"/>
<rect x="242.4" y="152.85" width="172.3" height="99.65" fill="none" stroke="#231f20" stroke-width="1.45"/>
<line x1="242.4" y1="202.85" x2="414.7" y2="202.85" stroke="#231f20" stroke-width="1.45"/>
<line x1="291.45" y1="151.05" x2="291.45" y2="152.85" stroke="#231f20" stroke-width="1.1"/>
<line x1="291.45" y1="252.5" x2="291.45" y2="254.5" stroke="#231f20" stroke-width="1.1"/>
<line x1="414.7" y1="252.5" x2="414.7" y2="254.5" stroke="#231f20" stroke-width="1.1"/>
<line x1="240" y1="175.15" x2="242.4" y2="175.15" stroke="#231f20" stroke-width="1.1"/>
<line x1="240" y1="196.35" x2="242.4" y2="196.35" stroke="#231f20" stroke-width="1.1"/>
<line x1="240" y1="153.95" x2="242.4" y2="153.95" stroke="#231f20" stroke-width="1.1"/>
<line x1="240" y1="252.5" x2="242.4" y2="252.5" stroke="#231f20" stroke-width="1.1"/>
<line x1="240" y1="227.6" x2="242.4" y2="227.6" stroke="#231f20" stroke-width="1.1"/>
<rect x="418.4" y="152.85" width="172.3" height="99.65" fill="none" stroke="#231f20" stroke-width="1.45"/>
<line x1="418.4" y1="202.85" x2="590.7" y2="202.85" stroke="#231f20" stroke-width="1.45"/>
<line x1="467.45" y1="151.05" x2="467.45" y2="152.85" stroke="#231f20" stroke-width="1.1"/>
<line x1="467.45" y1="252.5" x2="467.45" y2="254.5" stroke="#231f20" stroke-width="1.1"/>
<line x1="590.7" y1="252.5" x2="590.7" y2="254.5" stroke="#231f20" stroke-width="1.1"/>
<line x1="416" y1="175.15" x2="418.4" y2="175.15" stroke="#231f20" stroke-width="1.1"/>
<line x1="416" y1="196.35" x2="418.4" y2="196.35" stroke="#231f20" stroke-width="1.1"/>
<line x1="416" y1="153.95" x2="418.4" y2="153.95" stroke="#231f20" stroke-width="1.1"/>
<line x1="416" y1="252.5" x2="418.4" y2="252.5" stroke="#231f20" stroke-width="1.1"/>
<line x1="416" y1="227.6" x2="418.4" y2="227.6" stroke="#231f20" stroke-width="1.1"/>
<rect x="594.4" y="152.85" width="172.3" height="99.65" fill="none" stroke="#231f20" stroke-width="1.45"/>
<line x1="594.4" y1="202.85" x2="766.7" y2="202.85" stroke="#231f20" stroke-width="1.45"/>
<line x1="643.45" y1="151.05" x2="643.45" y2="152.85" stroke="#231f20" stroke-width="1.1"/>
<line x1="643.45" y1="252.5" x2="643.45" y2="254.5" stroke="#231f20" stroke-width="1.1"/>
<line x1="766.7" y1="252.5" x2="766.7" y2="254.5" stroke="#231f20" stroke-width="1.1"/>
<line x1="592" y1="175.15" x2="594.4" y2="175.15" stroke="#231f20" stroke-width="1.1"/>
<line x1="592" y1="196.35" x2="594.4" y2="196.35" stroke="#231f20" stroke-width="1.1"/>
<line x1="592" y1="153.95" x2="594.4" y2="153.95" stroke="#231f20" stroke-width="1.1"/>
<line x1="592" y1="252.5" x2="594.4" y2="252.5" stroke="#231f20" stroke-width="1.1"/>
<line x1="592" y1="227.6" x2="594.4" y2="227.6" stroke="#231f20" stroke-width="1.1"/>
<rect x="770.4" y="152.85" width="172.3" height="99.65" fill="none" stroke="#231f20" stroke-width="1.45"/>
<line x1="770.4" y1="202.85" x2="942.7" y2="202.85" stroke="#231f20" stroke-width="1.45"/>
<line x1="819.45" y1="151.05" x2="819.45" y2="152.85" stroke="#231f20" stroke-width="1.1"/>
<line x1="819.45" y1="252.5" x2="819.45" y2="254.5" stroke="#231f20" stroke-width="1.1"/>
<line x1="942.7" y1="252.5" x2="942.7" y2="254.5" stroke="#231f20" stroke-width="1.1"/>
<line x1="768" y1="175.15" x2="770.4" y2="175.15" stroke="#231f20" stroke-width="1.1"/>
<line x1="942.7" y1="175.15" x2="944.9" y2="175.15" stroke="#231f20" stroke-width="1.1"/>
<line x1="768" y1="196.35" x2="770.4" y2="196.35" stroke="#231f20" stroke-width="1.1"/>
<line x1="942.7" y1="196.35" x2="944.9" y2="196.35" stroke="#231f20" stroke-width="1.1"/>
<line x1="768" y1="153.95" x2="770.4" y2="153.95" stroke="#231f20" stroke-width="1.1"/>
<line x1="942.7" y1="153.95" x2="944.9" y2="153.95" stroke="#231f20" stroke-width="1.1"/>
<line x1="768" y1="252.5" x2="770.4" y2="252.5" stroke="#231f20" stroke-width="1.1"/>
<line x1="942.7" y1="252.5" x2="944.9" y2="252.5" stroke="#231f20" stroke-width="1.1"/>
<line x1="768" y1="227.6" x2="770.4" y2="227.6" stroke="#231f20" stroke-width="1.1"/>
<line x1="942.7" y1="227.6" x2="944.9" y2="227.6" stroke="#231f20" stroke-width="1.1"/>
<rect x="53.0" y="227.6" width="7.0" height="25.2" fill="#000"/>
<rect x="66.4" y="269.3" width="172.3" height="99.6" fill="none" stroke="#231f20" stroke-width="1.45"/>
<line x1="66.4" y1="318.95" x2="238.7" y2="318.95" stroke="#231f20" stroke-width="1.45"/>
<line x1="115.45" y1="267.5" x2="115.45" y2="269.3" stroke="#231f20" stroke-width="1.1"/>
<line x1="115.45" y1="368.9" x2="115.45" y2="370.9" stroke="#231f20" stroke-width="1.1"/>
<line x1="238.7" y1="368.9" x2="238.7" y2="370.9" stroke="#231f20" stroke-width="1.1"/>
<line x1="64" y1="291.2" x2="66.4" y2="291.2" stroke="#231f20" stroke-width="1.1"/>
<line x1="64" y1="312" x2="66.4" y2="312" stroke="#231f20" stroke-width="1.1"/>
<line x1="64" y1="270.4" x2="66.4" y2="270.4" stroke="#231f20" stroke-width="1.1"/>
<line x1="64" y1="368.9" x2="66.4" y2="368.9" stroke="#231f20" stroke-width="1.1"/>
<line x1="64" y1="347.1" x2="66.4" y2="347.1" stroke="#231f20" stroke-width="1.1"/>
<line x1="64" y1="325.3" x2="66.4" y2="325.3" stroke="#231f20" stroke-width="1.1"/>
<rect x="242.4" y="269.3" width="172.3" height="99.6" fill="none" stroke="#231f20" stroke-width="1.45"/>
<line x1="242.4" y1="318.95" x2="414.7" y2="318.95" stroke="#231f20" stroke-width="1.45"/>
<line x1="291.45" y1="267.5" x2="291.45" y2="269.3" stroke="#231f20" stroke-width="1.1"/>
<line x1="291.45" y1="368.9" x2="291.45" y2="370.9" stroke="#231f20" stroke-width="1.1"/>
<line x1="414.7" y1="368.9" x2="414.7" y2="370.9" stroke="#231f20" stroke-width="1.1"/>
<line x1="240" y1="291.2" x2="242.4" y2="291.2" stroke="#231f20" stroke-width="1.1"/>
<line x1="240" y1="312" x2="242.4" y2="312" stroke="#231f20" stroke-width="1.1"/>
<line x1="240" y1="270.4" x2="242.4" y2="270.4" stroke="#231f20" stroke-width="1.1"/>
<line x1="240" y1="368.9" x2="242.4" y2="368.9" stroke="#231f20" stroke-width="1.1"/>
<line x1="240" y1="347.1" x2="242.4" y2="347.1" stroke="#231f20" stroke-width="1.1"/>
<line x1="240" y1="325.3" x2="242.4" y2="325.3" stroke="#231f20" stroke-width="1.1"/>
<rect x="418.4" y="269.3" width="172.3" height="99.6" fill="none" stroke="#231f20" stroke-width="1.45"/>
<line x1="418.4" y1="318.95" x2="590.7" y2="318.95" stroke="#231f20" stroke-width="1.45"/>
<line x1="467.45" y1="267.5" x2="467.45" y2="269.3" stroke="#231f20" stroke-width="1.1"/>
<line x1="467.45" y1="368.9" x2="467.45" y2="370.9" stroke="#231f20" stroke-width="1.1"/>
<line x1="590.7" y1="368.9" x2="590.7" y2="370.9" stroke="#231f20" stroke-width="1.1"/>
<line x1="416" y1="291.2" x2="418.4" y2="291.2" stroke="#231f20" stroke-width="1.1"/>
<line x1="416" y1="312" x2="418.4" y2="312" stroke="#231f20" stroke-width="1.1"/>
<line x1="416" y1="270.4" x2="418.4" y2="270.4" stroke="#231f20" stroke-width="1.1"/>
<line x1="416" y1="368.9" x2="418.4" y2="368.9" stroke="#231f20" stroke-width="1.1"/>
<line x1="416" y1="347.1" x2="418.4" y2="347.1" stroke="#231f20" stroke-width="1.1"/>
<line x1="416" y1="325.3" x2="418.4" y2="325.3" stroke="#231f20" stroke-width="1.1"/>
<rect x="594.4" y="269.3" width="172.3" height="99.6" fill="none" stroke="#231f20" stroke-width="1.45"/>
<line x1="594.4" y1="318.95" x2="766.7" y2="318.95" stroke="#231f20" stroke-width="1.45"/>
<line x1="643.45" y1="267.5" x2="643.45" y2="269.3" stroke="#231f20" stroke-width="1.1"/>
<line x1="643.45" y1="368.9" x2="643.45" y2="370.9" stroke="#231f20" stroke-width="1.1"/>
<line x1="766.7" y1="368.9" x2="766.7" y2="370.9" stroke="#231f20" stroke-width="1.1"/>
<line x1="592" y1="291.2" x2="594.4" y2="291.2" stroke="#231f20" stroke-width="1.1"/>
<line x1="592" y1="312" x2="594.4" y2="312" stroke="#231f20" stroke-width="1.1"/>
<line x1="592" y1="270.4" x2="594.4" y2="270.4" stroke="#231f20" stroke-width="1.1"/>
<line x1="592" y1="368.9" x2="594.4" y2="368.9" stroke="#231f20" stroke-width="1.1"/>
<line x1="592" y1="347.1" x2="594.4" y2="347.1" stroke="#231f20" stroke-width="1.1"/>
<line x1="592" y1="325.3" x2="594.4" y2="325.3" stroke="#231f20" stroke-width="1.1"/>
<rect x="770.4" y="269.3" width="172.3" height="99.6" fill="none" stroke="#231f20" stroke-width="1.45"/>
<line x1="770.4" y1="318.95" x2="942.7" y2="318.95" stroke="#231f20" stroke-width="1.45"/>
<line x1="819.45" y1="267.5" x2="819.45" y2="269.3" stroke="#231f20" stroke-width="1.1"/>
<line x1="819.45" y1="368.9" x2="819.45" y2="370.9" stroke="#231f20" stroke-width="1.1"/>
<line x1="942.7" y1="368.9" x2="942.7" y2="370.9" stroke="#231f20" stroke-width="1.1"/>
<line x1="768" y1="291.2" x2="770.4" y2="291.2" stroke="#231f20" stroke-width="1.1"/>
<line x1="942.7" y1="291.2" x2="944.9" y2="291.2" stroke="#231f20" stroke-width="1.1"/>
<line x1="768" y1="312" x2="770.4" y2="312" stroke="#231f20" stroke-width="1.1"/>
<line x1="942.7" y1="312" x2="944.9" y2="312" stroke="#231f20" stroke-width="1.1"/>
<line x1="768" y1="270.4" x2="770.4" y2="270.4" stroke="#231f20" stroke-width="1.1"/>
<line x1="942.7" y1="270.4" x2="944.9" y2="270.4" stroke="#231f20" stroke-width="1.1"/>
<line x1="768" y1="368.9" x2="770.4" y2="368.9" stroke="#231f20" stroke-width="1.1"/>
<line x1="942.7" y1="368.9" x2="944.9" y2="368.9" stroke="#231f20" stroke-width="1.1"/>
<line x1="768" y1="347.1" x2="770.4" y2="347.1" stroke="#231f20" stroke-width="1.1"/>
<line x1="942.7" y1="347.1" x2="944.9" y2="347.1" stroke="#231f20" stroke-width="1.1"/>
<line x1="768" y1="325.3" x2="770.4" y2="325.3" stroke="#231f20" stroke-width="1.1"/>
<line x1="942.7" y1="325.3" x2="944.9" y2="325.3" stroke="#231f20" stroke-width="1.1"/>
<rect x="53.0" y="347.1" width="7.0" height="22.1" fill="#000"/>
<rect x="66.4" y="385.9" width="172.3" height="99.1" fill="none" stroke="#231f20" stroke-width="1.45"/>
<line x1="66.4" y1="435.3" x2="238.7" y2="435.3" stroke="#231f20" stroke-width="1.45"/>
<line x1="115.45" y1="384.1" x2="115.45" y2="385.9" stroke="#231f20" stroke-width="1.1"/>
<line x1="115.45" y1="485" x2="115.45" y2="487" stroke="#231f20" stroke-width="1.1"/>
<line x1="238.7" y1="485" x2="238.7" y2="487" stroke="#231f20" stroke-width="1.1"/>
<line x1="64" y1="407.73" x2="66.4" y2="407.73" stroke="#231f20" stroke-width="1.1"/>
<line x1="64" y1="429.07" x2="66.4" y2="429.07" stroke="#231f20" stroke-width="1.1"/>
<line x1="64" y1="386.4" x2="66.4" y2="386.4" stroke="#231f20" stroke-width="1.1"/>
<line x1="64" y1="485" x2="66.4" y2="485" stroke="#231f20" stroke-width="1.1"/>
<line x1="64" y1="458.7" x2="66.4" y2="458.7" stroke="#231f20" stroke-width="1.1"/>
<rect x="242.4" y="385.9" width="172.3" height="99.1" fill="none" stroke="#231f20" stroke-width="1.45"/>
<line x1="242.4" y1="435.3" x2="414.7" y2="435.3" stroke="#231f20" stroke-width="1.45"/>
<line x1="291.45" y1="384.1" x2="291.45" y2="385.9" stroke="#231f20" stroke-width="1.1"/>
<line x1="291.45" y1="485" x2="291.45" y2="487" stroke="#231f20" stroke-width="1.1"/>
<line x1="414.7" y1="485" x2="414.7" y2="487" stroke="#231f20" stroke-width="1.1"/>
<line x1="240" y1="407.73" x2="242.4" y2="407.73" stroke="#231f20" stroke-width="1.1"/>
<line x1="240" y1="429.07" x2="242.4" y2="429.07" stroke="#231f20" stroke-width="1.1"/>
<line x1="240" y1="386.4" x2="242.4" y2="386.4" stroke="#231f20" stroke-width="1.1"/>
<line x1="240" y1="485" x2="242.4" y2="485" stroke="#231f20" stroke-width="1.1"/>
<line x1="240" y1="458.7" x2="242.4" y2="458.7" stroke="#231f20" stroke-width="1.1"/>
<rect x="418.4" y="385.9" width="172.3" height="99.1" fill="none" stroke="#231f20" stroke-width="1.45"/>
<line x1="418.4" y1="435.3" x2="590.7" y2="435.3" stroke="#231f20" stroke-width="1.45"/>
<line x1="467.45" y1="384.1" x2="467.45" y2="385.9" stroke="#231f20" stroke-width="1.1"/>
<line x1="467.45" y1="485" x2="467.45" y2="487" stroke="#231f20" stroke-width="1.1"/>
<line x1="590.7" y1="485" x2="590.7" y2="487" stroke="#231f20" stroke-width="1.1"/>
<line x1="416" y1="407.73" x2="418.4" y2="407.73" stroke="#231f20" stroke-width="1.1"/>
<line x1="416" y1="429.07" x2="418.4" y2="429.07" stroke="#231f20" stroke-width="1.1"/>
<line x1="416" y1="386.4" x2="418.4" y2="386.4" stroke="#231f20" stroke-width="1.1"/>
<line x1="416" y1="485" x2="418.4" y2="485" stroke="#231f20" stroke-width="1.1"/>
<line x1="416" y1="458.7" x2="418.4" y2="458.7" stroke="#231f20" stroke-width="1.1"/>
<rect x="594.4" y="385.9" width="172.3" height="99.1" fill="none" stroke="#231f20" stroke-width="1.45"/>
<line x1="594.4" y1="435.3" x2="766.7" y2="435.3" stroke="#231f20" stroke-width="1.45"/>
<line x1="643.45" y1="384.1" x2="643.45" y2="385.9" stroke="#231f20" stroke-width="1.1"/>
<line x1="643.45" y1="485" x2="643.45" y2="487" stroke="#231f20" stroke-width="1.1"/>
<line x1="766.7" y1="485" x2="766.7" y2="487" stroke="#231f20" stroke-width="1.1"/>
<line x1="592" y1="407.73" x2="594.4" y2="407.73" stroke="#231f20" stroke-width="1.1"/>
<line x1="592" y1="429.07" x2="594.4" y2="429.07" stroke="#231f20" stroke-width="1.1"/>
<line x1="592" y1="386.4" x2="594.4" y2="386.4" stroke="#231f20" stroke-width="1.1"/>
<line x1="592" y1="485" x2="594.4" y2="485" stroke="#231f20" stroke-width="1.1"/>
<line x1="592" y1="458.7" x2="594.4" y2="458.7" stroke="#231f20" stroke-width="1.1"/>
<rect x="770.4" y="385.9" width="172.3" height="99.1" fill="none" stroke="#231f20" stroke-width="1.45"/>
<line x1="770.4" y1="435.3" x2="942.7" y2="435.3" stroke="#231f20" stroke-width="1.45"/>
<line x1="819.45" y1="384.1" x2="819.45" y2="385.9" stroke="#231f20" stroke-width="1.1"/>
<line x1="819.45" y1="485" x2="819.45" y2="487" stroke="#231f20" stroke-width="1.1"/>
<line x1="942.7" y1="485" x2="942.7" y2="487" stroke="#231f20" stroke-width="1.1"/>
<line x1="768" y1="407.73" x2="770.4" y2="407.73" stroke="#231f20" stroke-width="1.1"/>
<line x1="942.7" y1="407.73" x2="944.9" y2="407.73" stroke="#231f20" stroke-width="1.1"/>
<line x1="768" y1="429.07" x2="770.4" y2="429.07" stroke="#231f20" stroke-width="1.1"/>
<line x1="942.7" y1="429.07" x2="944.9" y2="429.07" stroke="#231f20" stroke-width="1.1"/>
<line x1="768" y1="386.4" x2="770.4" y2="386.4" stroke="#231f20" stroke-width="1.1"/>
<line x1="942.7" y1="386.4" x2="944.9" y2="386.4" stroke="#231f20" stroke-width="1.1"/>
<line x1="768" y1="485" x2="770.4" y2="485" stroke="#231f20" stroke-width="1.1"/>
<line x1="942.7" y1="485" x2="944.9" y2="485" stroke="#231f20" stroke-width="1.1"/>
<line x1="768" y1="458.7" x2="770.4" y2="458.7" stroke="#231f20" stroke-width="1.1"/>
<line x1="942.7" y1="458.7" x2="944.9" y2="458.7" stroke="#231f20" stroke-width="1.1"/>
<rect x="53.0" y="458.7" width="7.0" height="26.6" fill="#000"/>
<rect x="66.4" y="502.3" width="172.3" height="99.05" fill="none" stroke="#231f20" stroke-width="1.45"/>
<line x1="66.4" y1="552" x2="238.7" y2="552" stroke="#231f20" stroke-width="1.45"/>
<line x1="115.45" y1="500.5" x2="115.45" y2="502.3" stroke="#231f20" stroke-width="1.1"/>
<line x1="115.45" y1="601.35" x2="115.45" y2="603.35" stroke="#231f20" stroke-width="1.1"/>
<line x1="238.7" y1="601.35" x2="238.7" y2="603.35" stroke="#231f20" stroke-width="1.1"/>
<line x1="64" y1="524.2" x2="66.4" y2="524.2" stroke="#231f20" stroke-width="1.1"/>
<line x1="64" y1="545.4" x2="66.4" y2="545.4" stroke="#231f20" stroke-width="1.1"/>
<line x1="64" y1="503" x2="66.4" y2="503" stroke="#231f20" stroke-width="1.1"/>
<line x1="64" y1="601.35" x2="66.4" y2="601.35" stroke="#231f20" stroke-width="1.1"/>
<line x1="64" y1="579.75" x2="66.4" y2="579.75" stroke="#231f20" stroke-width="1.1"/>
<line x1="64" y1="558.15" x2="66.4" y2="558.15" stroke="#231f20" stroke-width="1.1"/>
<rect x="242.4" y="502.3" width="172.3" height="99.05" fill="none" stroke="#231f20" stroke-width="1.45"/>
<line x1="242.4" y1="552" x2="414.7" y2="552" stroke="#231f20" stroke-width="1.45"/>
<line x1="291.45" y1="500.5" x2="291.45" y2="502.3" stroke="#231f20" stroke-width="1.1"/>
<line x1="291.45" y1="601.35" x2="291.45" y2="603.35" stroke="#231f20" stroke-width="1.1"/>
<line x1="414.7" y1="601.35" x2="414.7" y2="603.35" stroke="#231f20" stroke-width="1.1"/>
<line x1="240" y1="524.2" x2="242.4" y2="524.2" stroke="#231f20" stroke-width="1.1"/>
<line x1="240" y1="545.4" x2="242.4" y2="545.4" stroke="#231f20" stroke-width="1.1"/>
<line x1="240" y1="503" x2="242.4" y2="503" stroke="#231f20" stroke-width="1.1"/>
<line x1="240" y1="601.35" x2="242.4" y2="601.35" stroke="#231f20" stroke-width="1.1"/>
<line x1="240" y1="579.75" x2="242.4" y2="579.75" stroke="#231f20" stroke-width="1.1"/>
<line x1="240" y1="558.15" x2="242.4" y2="558.15" stroke="#231f20" stroke-width="1.1"/>
<rect x="418.4" y="502.3" width="172.3" height="99.05" fill="none" stroke="#231f20" stroke-width="1.45"/>
<line x1="418.4" y1="552" x2="590.7" y2="552" stroke="#231f20" stroke-width="1.45"/>
<line x1="467.45" y1="500.5" x2="467.45" y2="502.3" stroke="#231f20" stroke-width="1.1"/>
<line x1="467.45" y1="601.35" x2="467.45" y2="603.35" stroke="#231f20" stroke-width="1.1"/>
<line x1="590.7" y1="601.35" x2="590.7" y2="603.35" stroke="#231f20" stroke-width="1.1"/>
<line x1="416" y1="524.2" x2="418.4" y2="524.2" stroke="#231f20" stroke-width="1.1"/>
<line x1="416" y1="545.4" x2="418.4" y2="545.4" stroke="#231f20" stroke-width="1.1"/>
<line x1="416" y1="503" x2="418.4" y2="503" stroke="#231f20" stroke-width="1.1"/>
<line x1="416" y1="601.35" x2="418.4" y2="601.35" stroke="#231f20" stroke-width="1.1"/>
<line x1="416" y1="579.75" x2="418.4" y2="579.75" stroke="#231f20" stroke-width="1.1"/>
<line x1="416" y1="558.15" x2="418.4" y2="558.15" stroke="#231f20" stroke-width="1.1"/>
<rect x="594.4" y="502.3" width="172.3" height="99.05" fill="none" stroke="#231f20" stroke-width="1.45"/>
<line x1="594.4" y1="552" x2="766.7" y2="552" stroke="#231f20" stroke-width="1.45"/>
<line x1="643.45" y1="500.5" x2="643.45" y2="502.3" stroke="#231f20" stroke-width="1.1"/>
<line x1="643.45" y1="601.35" x2="643.45" y2="603.35" stroke="#231f20" stroke-width="1.1"/>
<line x1="766.7" y1="601.35" x2="766.7" y2="603.35" stroke="#231f20" stroke-width="1.1"/>
<line x1="592" y1="524.2" x2="594.4" y2="524.2" stroke="#231f20" stroke-width="1.1"/>
<line x1="592" y1="545.4" x2="594.4" y2="545.4" stroke="#231f20" stroke-width="1.1"/>
<line x1="592" y1="503" x2="594.4" y2="503" stroke="#231f20" stroke-width="1.1"/>
<line x1="592" y1="601.35" x2="594.4" y2="601.35" stroke="#231f20" stroke-width="1.1"/>
<line x1="592" y1="579.75" x2="594.4" y2="579.75" stroke="#231f20" stroke-width="1.1"/>
<line x1="592" y1="558.15" x2="594.4" y2="558.15" stroke="#231f20" stroke-width="1.1"/>
<rect x="770.4" y="502.3" width="172.3" height="99.05" fill="none" stroke="#231f20" stroke-width="1.45"/>
<line x1="770.4" y1="552" x2="942.7" y2="552" stroke="#231f20" stroke-width="1.45"/>
<line x1="819.45" y1="500.5" x2="819.45" y2="502.3" stroke="#231f20" stroke-width="1.1"/>
<line x1="819.45" y1="601.35" x2="819.45" y2="603.35" stroke="#231f20" stroke-width="1.1"/>
<line x1="942.7" y1="601.35" x2="942.7" y2="603.35" stroke="#231f20" stroke-width="1.1"/>
<line x1="768" y1="524.2" x2="770.4" y2="524.2" stroke="#231f20" stroke-width="1.1"/>
<line x1="942.7" y1="524.2" x2="944.9" y2="524.2" stroke="#231f20" stroke-width="1.1"/>
<line x1="768" y1="545.4" x2="770.4" y2="545.4" stroke="#231f20" stroke-width="1.1"/>
<line x1="942.7" y1="545.4" x2="944.9" y2="545.4" stroke="#231f20" stroke-width="1.1"/>
<line x1="768" y1="503" x2="770.4" y2="503" stroke="#231f20" stroke-width="1.1"/>
<line x1="942.7" y1="503" x2="944.9" y2="503" stroke="#231f20" stroke-width="1.1"/>
<line x1="768" y1="601.35" x2="770.4" y2="601.35" stroke="#231f20" stroke-width="1.1"/>
<line x1="942.7" y1="601.35" x2="944.9" y2="601.35" stroke="#231f20" stroke-width="1.1"/>
<line x1="768" y1="579.75" x2="770.4" y2="579.75" stroke="#231f20" stroke-width="1.1"/>
<line x1="942.7" y1="579.75" x2="944.9" y2="579.75" stroke="#231f20" stroke-width="1.1"/>
<line x1="768" y1="558.15" x2="770.4" y2="558.15" stroke="#231f20" stroke-width="1.1"/>
<line x1="942.7" y1="558.15" x2="944.9" y2="558.15" stroke="#231f20" stroke-width="1.1"/>
<rect x="53.0" y="579.75" width="7.0" height="21.9" fill="#000"/>
<rect x="115.4" y="607.5" width="124" height="4.2" fill="#000"/>
<text x="150.8" y="27.2" font-family="Liberation Sans, sans-serif" font-size="27.8" text-anchor="middle" fill="#000">a</text>
<text x="325.5" y="27.2" font-family="Liberation Sans, sans-serif" font-size="27.8" text-anchor="middle" fill="#000">e</text>
<text x="496.4" y="27.2" font-family="Liberation Sans, sans-serif" font-size="27.8" text-anchor="middle" fill="#000">i</text>
<text x="674.4" y="27.2" font-family="Liberation Sans, sans-serif" font-size="27.8" text-anchor="middle" fill="#000">u</text>
<text x="848.5" y="27.2" font-family="Liberation Sans, sans-serif" font-size="27.8" text-anchor="middle" fill="#000">o</text>
<path d="M170.1 616.1L170.1 630.8L168.35 630.8L168.35 619.5C167.5 620.3 166.2 620.75 164.6 620.75L164.6 619.2C166.6 619.1 168 618.1 168.5 616.1Z" fill="#000"/>
<text x="185.5" y="631.3" font-family="Liberation Sans, sans-serif" font-size="20.8" text-anchor="middle" fill="#000">s</text>
<text transform="translate(19.1 590.3) rotate(-90)" font-family="Liberation Sans, sans-serif" font-size="21.3" text-anchor="middle" fill="#000">20</text>
<text transform="translate(42.2 590.4) rotate(-90)" font-family="Liberation Sans, sans-serif" font-size="20.5" text-anchor="middle" fill="#000">spikes/s</text>
<polygon points="75.3,5.1 78.6,1.4 103.7,24.2 106.7,20.9 117.6,38.9 97.5,31.2 100.1,28.2" fill="#ed1c24"/>
</svg></body></html>
